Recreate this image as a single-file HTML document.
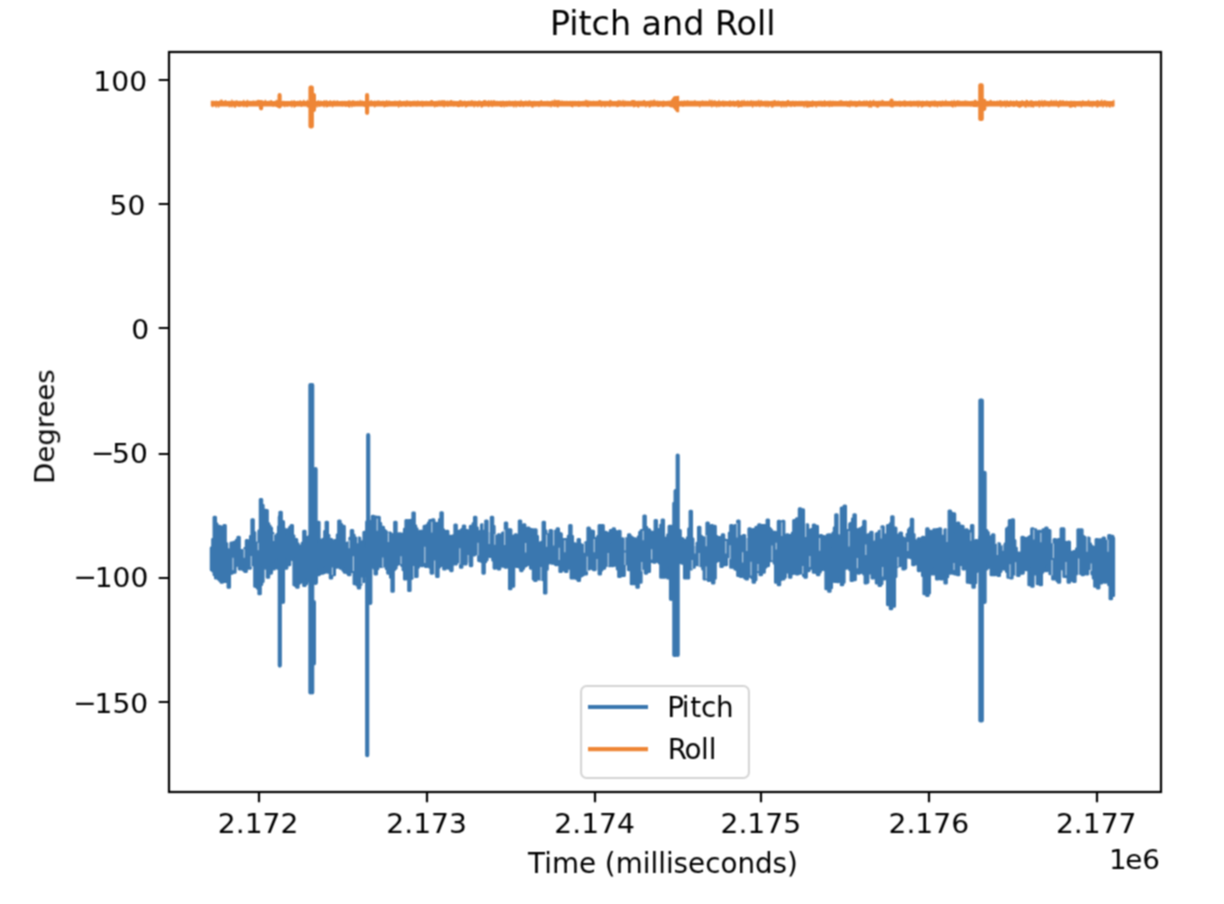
<!DOCTYPE html>
<html lang="en"><head><meta charset="utf-8"><title>Pitch and Roll</title>
<style>
html,body{margin:0;padding:0;background:#fff;}
body{width:1224px;height:904px;overflow:hidden;}
svg{display:block;}
text{font-family:"DejaVu Sans","Liberation Sans",sans-serif;fill:#000;}
</style></head><body>
<svg width="1224" height="904" viewBox="0 0 1224 904">
<defs><filter id="b" x="0" y="0" width="100%" height="100%" filterUnits="userSpaceOnUse" color-interpolation-filters="sRGB"><feConvolveMatrix order="3" kernelMatrix="0.0625 0.1250 0.0625 0.1250 0.2500 0.1250 0.0625 0.1250 0.0625" edgeMode="duplicate" preserveAlpha="false"/></filter><clipPath id="c"><rect x="169" y="52" width="992" height="740"/></clipPath></defs>
<rect width="1224" height="904" fill="#fff"/>
<g filter="url(#b)">
<g clip-path="url(#c)" fill="none" stroke-linejoin="round" stroke-linecap="butt" stroke-width="4.17">
<path d="M211.3 547.9 212.7 547.9 212.7 539.2 214.1 539.2 214.1 517.2 215.5 517.2 215.5 523.8 216.9 523.8 216.9 526.4 218.3 526.4 218.3 526.4 219.7 526.4 219.7 526.7 221.1 526.7 221.1 529.1 222.5 529.1 222.5 528.6 223.9 528.6 223.9 525.5 225.3 525.5 225.3 543.5 226.7 543.5 226.7 549.6 228.1 549.6 228.1 555.5 229.5 555.5 229.5 550.2 230.9 550.2 230.9 543.0 232.3 543.0 232.3 543.0 233.7 543.0 233.7 542.3 235.1 542.3 235.1 541.9 236.5 541.9 236.5 540.0 237.9 540.0 237.9 537.2 239.3 537.2 239.3 552.3 240.7 552.3 240.7 550.5 242.1 550.5 242.1 551.3 243.5 551.3 243.5 552.8 244.9 552.8 244.9 548.3 246.3 548.3 246.3 540.5 247.7 540.5 247.7 543.9 249.1 543.9 249.1 542.7 250.5 542.7 250.5 536.2 251.9 536.2 251.9 519.7 253.3 519.7 253.3 532.5 254.7 532.5 254.7 542.7 256.1 542.7 256.1 544.6 257.5 544.6 257.5 546.4 258.9 546.4 258.9 530.8 260.3 530.8 260.3 499.5 261.7 499.5 261.7 505.3 263.1 505.3 263.1 513.5 264.5 513.5 264.5 510.2 265.9 510.2 265.9 510.6 267.3 510.6 267.3 523.5 268.7 523.5 268.7 526.1 270.1 526.1 270.1 528.0 271.5 528.0 271.5 533.2 272.9 533.2 272.9 537.4 274.3 537.4 274.3 536.3 275.7 536.3 275.7 536.2 277.1 536.2 277.1 534.3 278.5 534.3 278.5 526.9 279.9 526.9 279.9 512.3 281.3 512.3 281.3 526.0 282.7 526.0 282.7 528.5 284.1 528.5 284.1 529.7 285.5 529.7 285.5 532.7 286.9 532.7 286.9 529.7 288.3 529.7 288.3 530.8 289.7 530.8 289.7 527.2 291.1 527.2 291.1 525.5 292.5 525.5 292.5 535.8 293.9 535.8 293.9 540.8 295.3 540.8 295.3 539.6 296.7 539.6 296.7 543.7 298.1 543.7 298.1 548.1 299.5 548.1 299.5 547.1 300.9 547.1 300.9 545.8 302.3 545.8 302.3 543.0 303.7 543.0 303.7 531.3 305.1 531.3 305.1 537.0 306.5 537.0 306.5 538.0 307.9 538.0 307.9 541.1 309.3 541.1 309.3 536.0 310.7 536.0 310.7 531.3 312.1 531.3 312.1 532.9 313.5 532.9 313.5 533.8 314.9 533.8 314.9 533.4 316.3 533.4 316.3 527.8 317.7 527.8 317.7 522.2 319.1 522.2 319.1 539.8 320.5 539.8 320.5 543.0 321.9 543.0 321.9 542.0 323.3 542.0 323.3 539.0 324.7 539.0 324.7 531.4 326.1 531.4 326.1 522.2 327.5 522.2 327.5 535.2 328.9 535.2 328.9 541.0 330.3 541.0 330.3 539.6 331.7 539.6 331.7 541.5 333.1 541.5 333.1 541.3 334.5 541.3 334.5 540.5 335.9 540.5 335.9 541.8 337.3 541.8 337.3 534.8 338.7 534.8 338.7 521.1 340.1 521.1 340.1 524.2 341.5 524.2 341.5 527.3 342.9 527.3 342.9 526.4 344.3 526.4 344.3 554.6 345.7 554.6 345.7 553.1 347.1 553.1 347.1 543.0 348.5 543.0 348.5 543.5 349.9 543.5 349.9 538.1 351.3 538.1 351.3 530.5 352.7 530.5 352.7 535.1 354.1 535.1 354.1 537.8 355.5 537.8 355.5 538.6 356.9 538.6 356.9 539.1 358.3 539.1 358.3 538.0 359.7 538.0 359.7 543.0 361.1 543.0 361.1 547.5 362.5 547.5 362.5 541.6 363.9 541.6 363.9 532.2 365.3 532.2 365.3 534.3 366.7 534.3 366.7 531.3 368.1 531.3 368.1 531.8 369.5 531.8 369.5 532.1 370.9 532.1 370.9 527.1 372.3 527.1 372.3 516.4 373.7 516.4 373.7 519.1 375.1 519.1 375.1 517.0 376.5 517.0 376.5 522.0 377.9 522.0 377.9 517.2 379.3 517.2 379.3 523.4 380.7 523.4 380.7 528.8 382.1 528.8 382.1 527.2 383.5 527.2 383.5 530.3 384.9 530.3 384.9 531.5 386.3 531.5 386.3 534.2 387.7 534.2 387.7 536.0 389.1 536.0 389.1 533.0 390.5 533.0 390.5 536.1 391.9 536.1 391.9 536.3 393.3 536.3 393.3 534.3 394.7 534.3 394.7 522.2 396.1 522.2 396.1 533.8 397.5 533.8 397.5 537.5 398.9 537.5 398.9 533.8 400.3 533.8 400.3 534.1 401.7 534.1 401.7 536.4 403.1 536.4 403.1 533.8 404.5 533.8 404.5 529.1 405.9 529.1 405.9 520.6 407.3 520.6 407.3 520.9 408.7 520.9 408.7 520.6 410.1 520.6 410.1 522.1 411.5 522.1 411.5 520.1 412.9 520.1 412.9 513.1 414.3 513.1 414.3 525.8 415.7 525.8 415.7 528.9 417.1 528.9 417.1 532.4 418.5 532.4 418.5 538.9 419.9 538.9 419.9 531.3 421.3 531.3 421.3 531.4 422.7 531.4 422.7 532.1 424.1 532.1 424.1 526.4 425.5 526.4 425.5 526.1 426.9 526.1 426.9 525.4 428.3 525.4 428.3 523.0 429.7 523.0 429.7 520.6 431.1 520.6 431.1 525.3 432.5 525.3 432.5 519.7 433.9 519.7 433.9 523.1 435.3 523.1 435.3 528.7 436.7 528.7 436.7 523.9 438.1 523.9 438.1 523.1 439.5 523.1 439.5 519.6 440.9 519.6 440.9 512.8 442.3 512.8 442.3 529.9 443.7 529.9 443.7 531.3 445.1 531.3 445.1 531.7 446.5 531.7 446.5 531.3 447.9 531.3 447.9 536.1 449.3 536.1 449.3 542.5 450.7 542.5 450.7 536.3 452.1 536.3 452.1 536.3 453.5 536.3 453.5 535.5 454.9 535.5 454.9 525.0 456.3 525.0 456.3 531.9 457.7 531.9 457.7 531.3 459.1 531.3 459.1 531.2 460.5 531.2 460.5 530.6 461.9 530.6 461.9 529.2 463.3 529.2 463.3 526.0 464.7 526.0 464.7 535.3 466.1 535.3 466.1 530.5 467.5 530.5 467.5 534.5 468.9 534.5 468.9 534.9 470.3 534.9 470.3 526.4 471.7 526.4 471.7 526.3 473.1 526.3 473.1 523.5 474.5 523.5 474.5 517.2 475.9 517.2 475.9 527.7 477.3 527.7 477.3 531.8 478.7 531.8 478.7 532.2 480.1 532.2 480.1 531.2 481.5 531.2 481.5 524.7 482.9 524.7 482.9 525.7 484.3 525.7 484.3 525.0 485.7 525.0 485.7 521.1 487.1 521.1 487.1 533.8 488.5 533.8 488.5 536.3 489.9 536.3 489.9 534.4 491.3 534.4 491.3 517.2 492.7 517.2 492.7 526.4 494.1 526.4 494.1 537.6 495.5 537.6 495.5 536.3 496.9 536.3 496.9 536.1 498.3 536.1 498.3 534.7 499.7 534.7 499.7 536.4 501.1 536.4 501.1 536.1 502.5 536.1 502.5 533.0 503.9 533.0 503.9 533.0 505.3 533.0 505.3 523.0 506.7 523.0 506.7 529.8 508.1 529.8 508.1 529.8 509.5 529.8 509.5 529.7 510.9 529.7 510.9 536.3 512.3 536.3 512.3 536.3 513.7 536.3 513.7 537.0 515.1 537.0 515.1 534.7 516.5 534.7 516.5 535.8 517.9 535.8 517.9 535.5 519.3 535.5 519.3 521.1 520.7 521.1 520.7 526.6 522.1 526.6 522.1 528.4 523.5 528.4 523.5 524.7 524.9 524.7 524.9 546.4 526.3 546.4 526.3 544.2 527.7 544.2 527.7 528.0 529.1 528.0 529.1 535.1 530.5 535.1 530.5 529.5 531.9 529.5 531.9 529.7 533.3 529.7 533.3 533.7 534.7 533.7 534.7 529.7 536.1 529.7 536.1 536.4 537.5 536.4 537.5 546.8 538.9 546.8 538.9 543.0 540.3 543.0 540.3 545.8 541.7 545.8 541.7 542.1 543.1 542.1 543.1 522.2 544.5 522.2 544.5 530.9 545.9 530.9 545.9 538.1 547.3 538.1 547.3 534.7 548.7 534.7 548.7 534.8 550.1 534.8 550.1 530.5 551.5 530.5 551.5 532.6 552.9 532.6 552.9 533.1 554.3 533.1 554.3 531.3 555.7 531.3 555.7 531.3 557.1 531.3 557.1 528.9 558.5 528.9 558.5 533.3 559.9 533.3 559.9 533.8 561.3 533.8 561.3 542.3 562.7 542.3 562.7 539.6 564.1 539.6 564.1 543.7 565.5 543.7 565.5 539.6 566.9 539.6 566.9 543.5 568.3 543.5 568.3 536.0 569.7 536.0 569.7 525.5 571.1 525.5 571.1 536.3 572.5 536.3 572.5 543.5 573.9 543.5 573.9 543.8 575.3 543.8 575.3 545.9 576.7 545.9 576.7 545.7 578.1 545.7 578.1 539.6 579.5 539.6 579.5 544.3 580.9 544.3 580.9 551.1 582.3 551.1 582.3 545.5 583.7 545.5 583.7 546.0 585.1 546.0 585.1 543.0 586.5 543.0 586.5 542.4 587.9 542.4 587.9 528.0 589.3 528.0 589.3 530.5 590.7 530.5 590.7 531.1 592.1 531.1 592.1 531.3 593.5 531.3 593.5 542.4 594.9 542.4 594.9 538.8 596.3 538.8 596.3 538.4 597.7 538.4 597.7 536.2 599.1 536.2 599.1 525.5 600.5 525.5 600.5 527.0 601.9 527.0 601.9 525.5 603.3 525.5 603.3 532.7 604.7 532.7 604.7 532.2 606.1 532.2 606.1 533.0 607.5 533.0 607.5 541.3 608.9 541.3 608.9 542.3 610.3 542.3 610.3 530.5 611.7 530.5 611.7 533.1 613.1 533.1 613.1 528.9 614.5 528.9 614.5 531.3 615.9 531.3 615.9 533.7 617.3 533.7 617.3 532.2 618.7 532.2 618.7 531.3 620.1 531.3 620.1 538.8 621.5 538.8 621.5 538.9 622.9 538.9 622.9 540.5 624.3 540.5 624.3 541.3 625.7 541.3 625.7 538.8 627.1 538.8 627.1 540.9 628.5 540.9 628.5 534.7 629.9 534.7 629.9 536.8 631.3 536.8 631.3 537.8 632.7 537.8 632.7 538.9 634.1 538.9 634.1 538.8 635.5 538.8 635.5 540.5 636.9 540.5 636.9 541.0 638.3 541.0 638.3 536.7 639.7 536.7 639.7 532.2 641.1 532.2 641.1 530.5 642.5 530.5 642.5 534.2 643.9 534.2 643.9 516.1 645.3 516.1 645.3 527.3 646.7 527.3 646.7 531.7 648.1 531.7 648.1 529.7 649.5 529.7 649.5 531.7 650.9 531.7 650.9 533.1 652.3 533.1 652.3 532.2 653.7 532.2 653.7 532.1 655.1 532.1 655.1 520.6 656.5 520.6 656.5 530.0 657.9 530.0 657.9 530.5 659.3 530.5 659.3 529.2 660.7 529.2 660.7 525.1 662.1 525.1 662.1 520.1 663.5 520.1 663.5 538.0 664.9 538.0 664.9 538.9 666.3 538.9 666.3 538.0 667.7 538.0 667.7 534.7 669.1 534.7 669.1 526.4 670.5 526.4 670.5 527.2 671.9 527.2 671.9 526.4 673.3 526.4 673.3 530.1 674.7 530.1 674.7 530.2 676.1 530.2 676.1 531.5 677.5 531.5 677.5 531.7 678.9 531.7 678.9 530.5 680.3 530.5 680.3 538.2 681.7 538.2 681.7 538.8 683.1 538.8 683.1 540.6 684.5 540.6 684.5 540.5 685.9 540.5 685.9 540.5 687.3 540.5 687.3 537.7 688.7 537.7 688.7 528.9 690.1 528.9 690.1 511.4 691.5 511.4 691.5 538.8 692.9 538.8 692.9 547.1 694.3 547.1 694.3 548.5 695.7 548.5 695.7 547.1 697.1 547.1 697.1 543.1 698.5 543.1 698.5 527.2 699.9 527.2 699.9 536.0 701.3 536.0 701.3 537.2 702.7 537.2 702.7 540.4 704.1 540.4 704.1 538.0 705.5 538.0 705.5 538.5 706.9 538.5 706.9 523.0 708.3 523.0 708.3 526.7 709.7 526.7 709.7 528.6 711.1 528.6 711.1 525.5 712.5 525.5 712.5 526.3 713.9 526.3 713.9 526.4 715.3 526.4 715.3 536.3 716.7 536.3 716.7 537.3 718.1 537.3 718.1 537.5 719.5 537.5 719.5 537.8 720.9 537.8 720.9 537.2 722.3 537.2 722.3 534.7 723.7 534.7 723.7 539.7 725.1 539.7 725.1 544.5 726.5 544.5 726.5 540.5 727.9 540.5 727.9 544.9 729.3 544.9 729.3 533.0 730.7 533.0 730.7 525.5 732.1 525.5 732.1 527.6 733.5 527.6 733.5 530.9 734.9 530.9 734.9 525.5 736.3 525.5 736.3 526.6 737.7 526.6 737.7 521.1 739.1 521.1 739.1 536.3 740.5 536.3 740.5 536.9 741.9 536.9 741.9 536.8 743.3 536.8 743.3 535.5 744.7 535.5 744.7 539.0 746.1 539.0 746.1 539.6 747.5 539.6 747.5 539.6 748.9 539.6 748.9 528.9 750.3 528.9 750.3 536.4 751.7 536.4 751.7 529.7 753.1 529.7 753.1 529.5 754.5 529.5 754.5 529.6 755.9 529.6 755.9 527.2 757.3 527.2 757.3 531.1 758.7 531.1 758.7 524.7 760.1 524.7 760.1 528.3 761.5 528.3 761.5 525.6 762.9 525.6 762.9 525.5 764.3 525.5 764.3 526.8 765.7 526.8 765.7 525.3 767.1 525.3 767.1 520.1 768.5 520.1 768.5 528.3 769.9 528.3 769.9 529.7 771.3 529.7 771.3 531.9 772.7 531.9 772.7 533.3 774.1 533.3 774.1 532.2 775.5 532.2 775.5 546.3 776.9 546.3 776.9 544.7 778.3 544.7 778.3 521.4 779.7 521.4 779.7 523.3 781.1 523.3 781.1 525.8 782.5 525.8 782.5 521.4 783.9 521.4 783.9 535.5 785.3 535.5 785.3 536.0 786.7 536.0 786.7 534.7 788.1 534.7 788.1 538.0 789.5 538.0 789.5 535.5 790.9 535.5 790.9 541.0 792.3 541.0 792.3 533.1 793.7 533.1 793.7 520.6 795.1 520.6 795.1 523.7 796.5 523.7 796.5 518.9 797.9 518.9 797.9 519.2 799.3 519.2 799.3 508.9 800.7 508.9 800.7 512.6 802.1 512.6 802.1 509.8 803.5 509.8 803.5 525.5 804.9 525.5 804.9 525.6 806.3 525.6 806.3 524.7 807.7 524.7 807.7 531.7 809.1 531.7 809.1 530.4 810.5 530.4 810.5 529.7 811.9 529.7 811.9 529.3 813.3 529.3 813.3 525.0 814.7 525.0 814.7 528.7 816.1 528.7 816.1 526.4 817.5 526.4 817.5 541.3 818.9 541.3 818.9 541.5 820.3 541.5 820.3 535.5 821.7 535.5 821.7 539.3 823.1 539.3 823.1 536.5 824.5 536.5 824.5 537.3 825.9 537.3 825.9 538.0 827.3 538.0 827.3 535.1 828.7 535.1 828.7 534.7 830.1 534.7 830.1 546.3 831.5 546.3 831.5 543.8 832.9 543.8 832.9 533.0 834.3 533.0 834.3 527.7 835.7 527.7 835.7 514.7 837.1 514.7 837.1 535.5 838.5 535.5 838.5 537.4 839.9 537.4 839.9 536.3 841.3 536.3 841.3 508.1 842.7 508.1 842.7 513.3 844.1 513.3 844.1 506.1 845.5 506.1 845.5 530.2 846.9 530.2 846.9 533.0 848.3 533.0 848.3 534.6 849.7 534.6 849.7 523.9 851.1 523.9 851.1 523.0 852.5 523.0 852.5 518.7 853.9 518.7 853.9 514.7 855.3 514.7 855.3 529.2 856.7 529.2 856.7 530.5 858.1 530.5 858.1 530.4 859.5 530.4 859.5 528.9 860.9 528.9 860.9 529.4 862.3 529.4 862.3 527.1 863.7 527.1 863.7 521.4 865.1 521.4 865.1 547.9 866.5 547.9 866.5 546.8 867.9 546.8 867.9 534.7 869.3 534.7 869.3 534.4 870.7 534.4 870.7 532.2 872.1 532.2 872.1 544.7 873.5 544.7 873.5 543.0 874.9 543.0 874.9 541.9 876.3 541.9 876.3 533.8 877.7 533.8 877.7 533.4 879.1 533.4 879.1 531.3 880.5 531.3 880.5 531.4 881.9 531.4 881.9 526.7 883.3 526.7 883.3 535.6 884.7 535.6 884.7 535.1 886.1 535.1 886.1 534.7 887.5 534.7 887.5 525.5 888.9 525.5 888.9 527.9 890.3 527.9 890.3 523.5 891.7 523.5 891.7 516.7 893.1 516.7 893.1 529.7 894.5 529.7 894.5 528.0 895.9 528.0 895.9 545.5 897.3 545.5 897.3 543.2 898.7 543.2 898.7 534.7 900.1 534.7 900.1 533.0 901.5 533.0 901.5 537.6 902.9 537.6 902.9 538.8 904.3 538.8 904.3 538.8 905.7 538.8 905.7 539.7 907.1 539.7 907.1 534.2 908.5 534.2 908.5 529.7 909.9 529.7 909.9 528.0 911.3 528.0 911.3 519.4 912.7 519.4 912.7 534.5 914.1 534.5 914.1 540.5 915.5 540.5 915.5 542.9 916.9 542.9 916.9 542.5 918.3 542.5 918.3 538.8 919.7 538.8 919.7 540.3 921.1 540.3 921.1 538.8 922.5 538.8 922.5 537.2 923.9 537.2 923.9 541.9 925.3 541.9 925.3 538.8 926.7 538.8 926.7 528.9 928.1 528.9 928.1 531.1 929.5 531.1 929.5 531.3 930.9 531.3 930.9 532.1 932.3 532.1 932.3 534.3 933.7 534.3 933.7 529.7 935.1 529.7 935.1 531.6 936.5 531.6 936.5 529.5 937.9 529.5 937.9 529.7 939.3 529.7 939.3 528.9 940.7 528.9 940.7 536.4 942.1 536.4 942.1 536.3 943.5 536.3 943.5 539.1 944.9 539.1 944.9 529.7 946.3 529.7 946.3 530.5 947.7 530.5 947.7 529.7 949.1 529.7 949.1 511.1 950.5 511.1 950.5 513.0 951.9 513.0 951.9 514.3 953.3 514.3 953.3 513.9 954.7 513.9 954.7 531.3 956.1 531.3 956.1 535.0 957.5 535.0 957.5 523.0 958.9 523.0 958.9 525.8 960.3 525.8 960.3 526.5 961.7 526.5 961.7 526.4 963.1 526.4 963.1 533.0 964.5 533.0 964.5 539.3 965.9 539.3 965.9 529.7 967.3 529.7 967.3 534.0 968.7 534.0 968.7 531.3 970.1 531.3 970.1 536.1 971.5 536.1 971.5 525.5 972.9 525.5 972.9 547.9 974.3 547.9 974.3 553.6 975.7 553.6 975.7 540.5 977.1 540.5 977.1 541.5 978.5 541.5 978.5 541.5 979.9 541.5 979.9 536.8 981.3 536.8 981.3 531.3 982.7 531.3 982.7 532.4 984.1 532.4 984.1 531.4 985.5 531.4 985.5 530.5 986.9 530.5 986.9 532.6 988.3 532.6 988.3 536.6 989.7 536.6 989.7 541.3 991.1 541.3 991.1 539.5 992.5 539.5 992.5 534.7 993.9 534.7 993.9 545.5 995.3 545.5 995.3 545.5 996.7 545.5 996.7 546.2 998.1 546.2 998.1 543.8 999.5 543.8 999.5 547.8 1000.9 547.8 1000.9 547.1 1002.3 547.1 1002.3 547.1 1003.7 547.1 1003.7 545.7 1005.1 545.7 1005.1 543.8 1006.5 543.8 1006.5 528.9 1007.9 528.9 1007.9 527.5 1009.3 527.5 1009.3 520.6 1010.7 520.6 1010.7 520.8 1012.1 520.8 1012.1 519.7 1013.5 519.7 1013.5 540.5 1014.9 540.5 1014.9 548.0 1016.3 548.0 1016.3 552.9 1017.7 552.9 1017.7 553.0 1019.1 553.0 1019.1 555.5 1020.5 555.5 1020.5 552.9 1021.9 552.9 1021.9 537.2 1023.3 537.2 1023.3 538.0 1024.7 538.0 1024.7 538.9 1026.1 538.9 1026.1 538.7 1027.5 538.7 1027.5 538.0 1028.9 538.0 1028.9 537.0 1030.3 537.0 1030.3 536.3 1031.7 536.3 1031.7 528.9 1033.1 528.9 1033.1 533.0 1034.5 533.0 1034.5 529.7 1035.9 529.7 1035.9 547.9 1037.3 547.9 1037.3 544.8 1038.7 544.8 1038.7 531.3 1040.1 531.3 1040.1 536.3 1041.5 536.3 1041.5 532.0 1042.9 532.0 1042.9 529.7 1044.3 529.7 1044.3 530.5 1045.7 530.5 1045.7 528.0 1047.1 528.0 1047.1 534.6 1048.5 534.6 1048.5 530.5 1049.9 530.5 1049.9 544.6 1051.3 544.6 1051.3 546.2 1052.7 546.2 1052.7 547.1 1054.1 547.1 1054.1 539.6 1055.5 539.6 1055.5 540.7 1056.9 540.7 1056.9 540.3 1058.3 540.3 1058.3 539.6 1059.7 539.6 1059.7 541.7 1061.1 541.7 1061.1 528.9 1062.5 528.9 1062.5 528.9 1063.9 528.9 1063.9 542.1 1065.3 542.1 1065.3 543.1 1066.7 543.1 1066.7 544.6 1068.1 544.6 1068.1 542.1 1069.5 542.1 1069.5 552.1 1070.9 552.1 1070.9 552.3 1072.3 552.3 1072.3 553.1 1073.7 553.1 1073.7 551.6 1075.1 551.6 1075.1 551.5 1076.5 551.5 1076.5 548.8 1077.9 548.8 1077.9 529.7 1079.3 529.7 1079.3 533.1 1080.7 533.1 1080.7 529.7 1082.1 529.7 1082.1 536.2 1083.5 536.2 1083.5 537.2 1084.9 537.2 1084.9 539.6 1086.3 539.6 1086.3 540.5 1087.7 540.5 1087.7 538.0 1089.1 538.0 1089.1 543.8 1090.5 543.8 1090.5 546.0 1091.9 546.0 1091.9 548.6 1093.3 548.6 1093.3 547.3 1094.7 547.3 1094.7 547.1 1096.1 547.1 1096.1 539.6 1097.5 539.6 1097.5 541.9 1098.9 541.9 1098.9 539.9 1100.3 539.9 1100.3 541.3 1101.7 541.3 1101.7 539.6 1103.1 539.6 1103.1 538.0 1104.5 538.0 1104.5 541.9 1105.9 541.9 1105.9 541.3 1107.3 541.3 1107.3 543.0 1108.7 543.0 1108.7 535.5 1110.1 535.5 1110.1 541.6 1111.5 541.6 1111.5 536.3 1112.9 536.3 1112.9 538.0 1113.6 538.0 1113.6 595.5 1112.9 595.5 1112.9 595.2 1111.5 595.2 1111.5 598.8 1110.1 598.8 1110.1 584.7 1108.7 584.7 1108.7 573.0 1107.3 573.0 1107.3 578.0 1105.9 578.0 1105.9 582.2 1104.5 582.2 1104.5 581.1 1103.1 581.1 1103.1 580.0 1101.7 580.0 1101.7 583.0 1100.3 583.0 1100.3 582.3 1098.9 582.3 1098.9 588.0 1097.5 588.0 1097.5 580.4 1096.1 580.4 1096.1 586.3 1094.7 586.3 1094.7 578.1 1093.3 578.1 1093.3 573.9 1091.9 573.9 1091.9 567.3 1090.5 567.3 1090.5 568.1 1089.1 568.1 1089.1 568.6 1087.7 568.6 1087.7 573.9 1086.3 573.9 1086.3 570.0 1084.9 570.0 1084.9 572.7 1083.5 572.7 1083.5 574.7 1082.1 574.7 1082.1 563.1 1080.7 563.1 1080.7 573.1 1079.3 573.1 1079.3 570.7 1077.9 570.7 1077.9 572.5 1076.5 572.5 1076.5 573.9 1075.1 573.9 1075.1 581.4 1073.7 581.4 1073.7 580.5 1072.3 580.5 1072.3 579.5 1070.9 579.5 1070.9 579.7 1069.5 579.7 1069.5 582.2 1068.1 582.2 1068.1 576.8 1066.7 576.8 1066.7 571.8 1065.3 571.8 1065.3 576.4 1063.9 576.4 1063.9 568.9 1062.5 568.9 1062.5 567.1 1061.1 567.1 1061.1 566.4 1059.7 566.4 1059.7 582.2 1058.3 582.2 1058.3 580.6 1056.9 580.6 1056.9 573.8 1055.5 573.8 1055.5 577.0 1054.1 577.0 1054.1 578.9 1052.7 578.9 1052.7 572.0 1051.3 572.0 1051.3 573.7 1049.9 573.7 1049.9 569.9 1048.5 569.9 1048.5 566.3 1047.1 566.3 1047.1 570.6 1045.7 570.6 1045.7 570.4 1044.3 570.4 1044.3 569.4 1042.9 569.4 1042.9 572.2 1041.5 572.2 1041.5 584.7 1040.1 584.7 1040.1 582.4 1038.7 582.4 1038.7 583.8 1037.3 583.8 1037.3 573.9 1035.9 573.9 1035.9 572.6 1034.5 572.6 1034.5 573.9 1033.1 573.9 1033.1 586.3 1031.7 586.3 1031.7 582.9 1030.3 582.9 1030.3 584.7 1028.9 584.7 1028.9 567.6 1027.5 567.6 1027.5 569.7 1026.1 569.7 1026.1 568.9 1024.7 568.9 1024.7 566.9 1023.3 566.9 1023.3 573.1 1021.9 573.1 1021.9 573.1 1020.5 573.1 1020.5 573.2 1019.1 573.2 1019.1 575.5 1017.7 575.5 1017.7 573.6 1016.3 573.6 1016.3 571.5 1014.9 571.5 1014.9 573.9 1013.5 573.9 1013.5 573.0 1012.1 573.0 1012.1 578.0 1010.7 578.0 1010.7 573.6 1009.3 573.6 1009.3 577.2 1007.9 577.2 1007.9 571.4 1006.5 571.4 1006.5 569.2 1005.1 569.2 1005.1 568.9 1003.7 568.9 1003.7 568.9 1002.3 568.9 1002.3 566.4 1000.9 566.4 1000.9 571.5 999.5 571.5 999.5 575.5 998.1 575.5 998.1 568.0 996.7 568.0 996.7 573.9 995.3 573.9 995.3 574.8 993.9 574.8 993.9 571.2 992.5 571.2 992.5 574.7 991.1 574.7 991.1 567.2 989.7 567.2 989.7 566.3 988.3 566.3 988.3 567.4 986.9 567.4 986.9 568.9 985.5 568.9 985.5 568.4 984.1 568.4 984.1 568.4 982.7 568.4 982.7 571.4 981.3 571.4 981.3 570.4 979.9 570.4 979.9 569.7 978.5 569.7 978.5 570.0 977.1 570.0 977.1 571.4 975.7 571.4 975.7 582.7 974.3 582.7 974.3 587.2 972.9 587.2 972.9 581.7 971.5 581.7 971.5 582.8 970.1 582.8 970.1 582.2 968.7 582.2 968.7 582.2 967.3 582.2 967.3 566.0 965.9 566.0 965.9 562.5 964.5 562.5 964.5 568.9 963.1 568.9 963.1 562.9 961.7 562.9 961.7 561.8 960.3 561.8 960.3 564.8 958.9 564.8 958.9 574.7 957.5 574.7 957.5 573.6 956.1 573.6 956.1 573.9 954.7 573.9 954.7 566.4 953.3 566.4 953.3 573.1 951.9 573.1 951.9 572.3 950.5 572.3 950.5 573.1 949.1 573.1 949.1 559.8 947.7 559.8 947.7 576.7 946.3 576.7 946.3 583.0 944.9 583.0 944.9 578.4 943.5 578.4 943.5 575.9 942.1 575.9 942.1 578.9 940.7 578.9 940.7 577.7 939.3 577.7 939.3 578.4 937.9 578.4 937.9 578.9 936.5 578.9 936.5 574.0 935.1 574.0 935.1 568.8 933.7 568.8 933.7 573.9 932.3 573.9 932.3 573.3 930.9 573.3 930.9 573.9 929.5 573.9 929.5 593.0 928.1 593.0 928.1 595.5 926.7 595.5 926.7 592.2 925.3 592.2 925.3 593.8 923.9 593.8 923.9 575.5 922.5 575.5 922.5 570.2 921.1 570.2 921.1 569.9 919.7 569.9 919.7 570.6 918.3 570.6 918.3 563.9 916.9 563.9 916.9 562.2 915.5 562.2 915.5 563.8 914.1 563.8 914.1 564.8 912.7 564.8 912.7 557.9 911.3 557.9 911.3 553.2 909.9 553.2 909.9 557.3 908.5 557.3 908.5 547.5 907.1 547.5 907.1 549.8 905.7 549.8 905.7 568.1 904.3 568.1 904.3 568.9 902.9 568.9 902.9 563.5 901.5 563.5 901.5 563.1 900.1 563.1 900.1 565.6 898.7 565.6 898.7 563.3 897.3 563.3 897.3 566.4 895.9 566.4 895.9 576.4 894.5 576.4 894.5 606.3 893.1 606.3 893.1 604.8 891.7 604.8 891.7 608.7 890.3 608.7 890.3 602.2 888.9 602.2 888.9 604.6 887.5 604.6 887.5 576.4 886.1 576.4 886.1 576.1 884.7 576.1 884.7 578.9 883.3 578.9 883.3 573.1 881.9 573.1 881.9 583.8 880.5 583.8 880.5 585.5 879.1 585.5 879.1 582.0 877.7 582.0 877.7 583.0 876.3 583.0 876.3 571.4 874.9 571.4 874.9 570.7 873.5 570.7 873.5 578.0 872.1 578.0 872.1 571.4 870.7 571.4 870.7 573.0 869.3 573.0 869.3 573.1 867.9 573.1 867.9 582.2 866.5 582.2 866.5 583.0 865.1 583.0 865.1 573.9 863.7 573.9 863.7 566.9 862.3 566.9 862.3 569.2 860.9 569.2 860.9 572.4 859.5 572.4 859.5 573.1 858.1 573.1 858.1 564.8 856.7 564.8 856.7 565.6 855.3 565.6 855.3 579.7 853.9 579.7 853.9 577.5 852.5 577.5 852.5 580.5 851.1 580.5 851.1 569.7 849.7 569.7 849.7 567.5 848.3 567.5 848.3 567.5 846.9 567.5 846.9 568.1 845.5 568.1 845.5 550.6 844.1 550.6 844.1 582.2 842.7 582.2 842.7 584.7 841.3 584.7 841.3 576.1 839.9 576.1 839.9 581.3 838.5 581.3 838.5 581.6 837.1 581.6 837.1 579.5 835.7 579.5 835.7 581.4 834.3 581.4 834.3 571.5 832.9 571.5 832.9 574.7 831.5 574.7 831.5 587.8 830.1 587.8 830.1 591.3 828.7 591.3 828.7 588.6 827.3 588.6 827.3 588.8 825.9 588.8 825.9 569.7 824.5 569.7 824.5 567.8 823.1 567.8 823.1 568.4 821.7 568.4 821.7 569.8 820.3 569.8 820.3 572.0 818.9 572.0 818.9 574.7 817.5 574.7 817.5 572.6 816.1 572.6 816.1 572.3 814.7 572.3 814.7 572.2 813.3 572.2 813.3 567.8 811.9 567.8 811.9 568.1 810.5 568.1 810.5 563.3 809.1 563.3 809.1 570.6 807.7 570.6 807.7 568.8 806.3 568.8 806.3 577.2 804.9 577.2 804.9 575.6 803.5 575.6 803.5 570.2 802.1 570.2 802.1 571.8 800.7 571.8 800.7 573.1 799.3 573.1 799.3 571.9 797.9 571.9 797.9 573.9 796.5 573.9 796.5 572.7 795.1 572.7 795.1 573.1 793.7 573.1 793.7 555.6 792.3 555.6 792.3 573.7 790.9 573.7 790.9 577.2 789.5 577.2 789.5 572.3 788.1 572.3 788.1 571.4 786.7 571.4 786.7 569.6 785.3 569.6 785.3 577.2 783.9 577.2 783.9 578.9 782.5 578.9 782.5 574.7 781.1 574.7 781.1 579.6 779.7 579.6 779.7 584.7 778.3 584.7 778.3 580.3 776.9 580.3 776.9 582.2 775.5 582.2 775.5 563.1 774.1 563.1 774.1 559.7 772.7 559.7 772.7 556.8 771.3 556.8 771.3 560.6 769.9 560.6 769.9 551.5 768.5 551.5 768.5 565.6 767.1 565.6 767.1 565.9 765.7 565.9 765.7 567.2 764.3 567.2 764.3 572.2 762.9 572.2 762.9 571.5 761.5 571.5 761.5 574.7 760.1 574.7 760.1 571.7 758.7 571.7 758.7 567.7 757.3 567.7 757.3 569.7 755.9 569.7 755.9 579.7 754.5 579.7 754.5 582.2 753.1 582.2 753.1 577.7 751.7 577.7 751.7 572.1 750.3 572.1 750.3 574.7 748.9 574.7 748.9 576.4 747.5 576.4 747.5 578.9 746.1 578.9 746.1 578.0 744.7 578.0 744.7 563.7 743.3 563.7 743.3 558.9 741.9 558.9 741.9 576.4 740.5 576.4 740.5 575.7 739.1 575.7 739.1 575.5 737.7 575.5 737.7 569.5 736.3 569.5 736.3 568.9 734.9 568.9 734.9 567.2 733.5 567.2 733.5 566.5 732.1 566.5 732.1 567.2 730.7 567.2 730.7 555.6 729.3 555.6 729.3 556.2 727.9 556.2 727.9 556.8 726.5 556.8 726.5 564.8 725.1 564.8 725.1 564.8 723.7 564.8 723.7 564.8 722.3 564.8 722.3 566.4 720.9 566.4 720.9 558.8 719.5 558.8 719.5 560.5 718.1 560.5 718.1 559.0 716.7 559.0 716.7 561.4 715.3 561.4 715.3 578.2 713.9 578.2 713.9 583.0 712.5 583.0 712.5 576.4 711.1 576.4 711.1 576.4 709.7 576.4 709.7 580.5 708.3 580.5 708.3 578.8 706.9 578.8 706.9 575.2 705.5 575.2 705.5 578.9 704.1 578.9 704.1 568.9 702.7 568.9 702.7 564.9 701.3 564.9 701.3 565.8 699.9 565.8 699.9 564.6 698.5 564.6 698.5 564.8 697.1 564.8 697.1 561.6 695.7 561.6 695.7 561.4 694.3 561.4 694.3 567.2 692.9 567.2 692.9 565.9 691.5 565.9 691.5 568.9 690.1 568.9 690.1 566.3 688.7 566.3 688.7 578.0 687.3 578.0 687.3 577.8 685.9 577.8 685.9 578.0 684.5 578.0 684.5 562.1 683.1 562.1 683.1 563.1 681.7 563.1 681.7 562.3 680.3 562.3 680.3 562.0 678.9 562.0 678.9 562.8 677.5 562.8 677.5 564.0 676.1 564.0 676.1 561.6 674.7 561.6 674.7 564.8 673.3 564.8 673.3 570.1 671.9 570.1 671.9 578.0 670.5 578.0 670.5 576.5 669.1 576.5 669.1 578.0 667.7 578.0 667.7 568.9 666.3 568.9 666.3 569.9 664.9 569.9 664.9 577.2 663.5 577.2 663.5 576.5 662.1 576.5 662.1 577.2 660.7 577.2 660.7 563.0 659.3 563.0 659.3 561.4 657.9 561.4 657.9 561.1 656.5 561.1 656.5 559.0 655.1 559.0 655.1 562.3 653.7 562.3 653.7 561.5 652.3 561.5 652.3 556.1 650.9 556.1 650.9 561.4 649.5 561.4 649.5 571.4 648.1 571.4 648.1 569.3 646.7 569.3 646.7 573.1 645.3 573.1 645.3 568.3 643.9 568.3 643.9 568.2 642.5 568.2 642.5 568.1 641.1 568.1 641.1 582.2 639.7 582.2 639.7 580.6 638.3 580.6 638.3 587.2 636.9 587.2 636.9 583.3 635.5 583.3 635.5 583.8 634.1 583.8 634.1 580.9 632.7 580.9 632.7 583.8 631.3 583.8 631.3 569.5 629.9 569.5 629.9 569.7 628.5 569.7 628.5 564.0 627.1 564.0 627.1 562.2 625.7 562.2 625.7 561.4 624.3 561.4 624.3 575.5 622.9 575.5 622.9 574.1 621.5 574.1 621.5 575.7 620.1 575.7 620.1 576.4 618.7 576.4 618.7 568.9 617.3 568.9 617.3 562.8 615.9 562.8 615.9 565.3 614.5 565.3 614.5 564.5 613.1 564.5 613.1 565.6 611.7 565.6 611.7 563.7 610.3 563.7 610.3 565.6 608.9 565.6 608.9 562.9 607.5 562.9 607.5 564.7 606.1 564.7 606.1 565.4 604.7 565.4 604.7 568.1 603.3 568.1 603.3 568.5 601.9 568.5 601.9 570.1 600.5 570.1 600.5 573.9 599.1 573.9 599.1 567.6 597.7 567.6 597.7 566.4 596.3 566.4 596.3 568.8 594.9 568.8 594.9 569.7 593.5 569.7 593.5 568.5 592.1 568.5 592.1 567.2 590.7 567.2 590.7 567.6 589.3 567.6 589.3 568.9 587.9 568.9 587.9 568.2 586.5 568.2 586.5 573.9 585.1 573.9 585.1 566.8 583.7 566.8 583.7 574.4 582.3 574.4 582.3 575.5 580.9 575.5 580.9 576.3 579.5 576.3 579.5 580.5 578.1 580.5 578.1 578.7 576.7 578.7 576.7 577.1 575.3 577.1 575.3 578.0 573.9 578.0 573.9 577.9 572.5 577.9 572.5 578.0 571.1 578.0 571.1 568.2 569.7 568.2 569.7 568.1 568.3 568.1 568.3 565.3 566.9 565.3 566.9 571.4 565.5 571.4 565.5 569.2 564.1 569.2 564.1 570.0 562.7 570.0 562.7 567.5 561.3 567.5 561.3 571.4 559.9 571.4 559.9 556.5 558.5 556.5 558.5 557.4 557.1 557.4 557.1 564.8 555.7 564.8 555.7 563.4 554.3 563.4 554.3 563.1 552.9 563.1 552.9 563.1 551.5 563.1 551.5 555.7 550.1 555.7 550.1 562.8 548.7 562.8 548.7 563.1 547.3 563.1 547.3 569.3 545.9 569.3 545.9 593.0 544.5 593.0 544.5 579.7 543.1 579.7 543.1 578.9 541.7 578.9 541.7 576.4 540.3 576.4 540.3 578.9 538.9 578.9 538.9 578.0 537.5 578.0 537.5 576.0 536.1 576.0 536.1 580.5 534.7 580.5 534.7 578.9 533.3 578.9 533.3 568.3 531.9 568.3 531.9 568.1 530.5 568.1 530.5 563.6 529.1 563.6 529.1 563.8 527.7 563.8 527.7 564.6 526.3 564.6 526.3 565.6 524.9 565.6 524.9 566.3 523.5 566.3 523.5 568.5 522.1 568.5 522.1 570.6 520.7 570.6 520.7 567.3 519.3 567.3 519.3 564.6 517.9 564.6 517.9 566.4 516.5 566.4 516.5 560.0 515.1 560.0 515.1 561.4 513.7 561.4 513.7 586.3 512.3 586.3 512.3 585.2 510.9 585.2 510.9 588.8 509.5 588.8 509.5 565.3 508.1 565.3 508.1 566.4 506.7 566.4 506.7 567.2 505.3 567.2 505.3 566.3 503.9 566.3 503.9 566.2 502.5 566.2 502.5 565.3 501.1 565.3 501.1 564.0 499.7 564.0 499.7 568.9 498.3 568.9 498.3 562.8 496.9 562.8 496.9 567.2 495.5 567.2 495.5 568.1 494.1 568.1 494.1 560.1 492.7 560.1 492.7 553.4 491.3 553.4 491.3 556.5 489.9 556.5 489.9 554.0 488.5 554.0 488.5 552.3 487.1 552.3 487.1 559.8 485.7 559.8 485.7 561.7 484.3 561.7 484.3 573.1 482.9 573.1 482.9 561.4 481.5 561.4 481.5 559.7 480.1 559.7 480.1 560.6 478.7 560.6 478.7 551.9 477.3 551.9 477.3 553.2 475.9 553.2 475.9 554.0 474.5 554.0 474.5 554.9 473.1 554.9 473.1 554.3 471.7 554.3 471.7 565.6 470.3 565.6 470.3 559.8 468.9 559.8 468.9 558.7 467.5 558.7 467.5 561.0 466.1 561.0 466.1 563.9 464.7 563.9 464.7 563.1 463.3 563.1 463.3 563.6 461.9 563.6 461.9 567.2 460.5 567.2 460.5 561.0 459.1 561.0 459.1 561.7 457.7 561.7 457.7 559.3 456.3 559.3 456.3 563.9 454.9 563.9 454.9 563.9 453.5 563.9 453.5 562.6 452.1 562.6 452.1 570.6 450.7 570.6 450.7 568.1 449.3 568.1 449.3 568.1 447.9 568.1 447.9 564.9 446.5 564.9 446.5 565.1 445.1 565.1 445.1 568.9 443.7 568.9 443.7 563.4 442.3 563.4 442.3 565.0 440.9 565.0 440.9 565.6 439.5 565.6 439.5 567.1 438.1 567.1 438.1 576.4 436.7 576.4 436.7 573.5 435.3 573.5 435.3 571.5 433.9 571.5 433.9 572.0 432.5 572.0 432.5 573.1 431.1 573.1 431.1 567.2 429.7 567.2 429.7 564.1 428.3 564.1 428.3 566.2 426.9 566.2 426.9 566.4 425.5 566.4 425.5 559.5 424.1 559.5 424.1 564.5 422.7 564.5 422.7 565.6 421.3 565.6 421.3 561.7 419.9 561.7 419.9 564.7 418.5 564.7 418.5 567.2 417.1 567.2 417.1 576.4 415.7 576.4 415.7 575.9 414.3 575.9 414.3 574.4 412.9 574.4 412.9 577.2 411.5 577.2 411.5 578.6 410.1 578.6 410.1 590.5 408.7 590.5 408.7 574.2 407.3 574.2 407.3 576.4 405.9 576.4 405.9 578.9 404.5 578.9 404.5 569.7 403.1 569.7 403.1 565.5 401.7 565.5 401.7 560.4 400.3 560.4 400.3 563.1 398.9 563.1 398.9 563.8 397.5 563.8 397.5 564.6 396.1 564.6 396.1 568.1 394.7 568.1 394.7 569.5 393.3 569.5 393.3 591.3 391.9 591.3 391.9 577.2 390.5 577.2 390.5 570.5 389.1 570.5 389.1 573.1 387.7 573.1 387.7 568.6 386.3 568.6 386.3 565.2 384.9 565.2 384.9 565.9 383.5 565.9 383.5 564.0 382.1 564.0 382.1 566.4 380.7 566.4 380.7 562.3 379.3 562.3 379.3 562.0 377.9 562.0 377.9 568.7 376.5 568.7 376.5 573.9 375.1 573.9 375.1 568.1 373.7 568.1 373.7 566.4 372.3 566.4 372.3 566.5 370.9 566.5 370.9 565.9 369.5 565.9 369.5 567.8 368.1 567.8 368.1 563.4 366.7 563.4 366.7 571.8 365.3 571.8 365.3 575.6 363.9 575.6 363.9 581.4 362.5 581.4 362.5 580.8 361.1 580.8 361.1 584.2 359.7 584.2 359.7 588.0 358.3 588.0 358.3 584.9 356.9 584.9 356.9 583.1 355.5 583.1 355.5 583.8 354.1 583.8 354.1 567.4 352.7 567.4 352.7 571.4 351.3 571.4 351.3 571.6 349.9 571.6 349.9 574.7 348.5 574.7 348.5 572.9 347.1 572.9 347.1 571.9 345.7 571.9 345.7 572.2 344.3 572.2 344.3 570.2 342.9 570.2 342.9 567.5 341.5 567.5 341.5 568.1 340.1 568.1 340.1 566.6 338.7 566.6 338.7 565.6 337.3 565.6 337.3 567.2 335.9 567.2 335.9 564.0 334.5 564.0 334.5 574.7 333.1 574.7 333.1 571.3 331.7 571.3 331.7 578.0 330.3 578.0 330.3 570.0 328.9 570.0 328.9 572.2 327.5 572.2 327.5 571.6 326.1 571.6 326.1 567.8 324.7 567.8 324.7 572.5 323.3 572.5 323.3 573.1 321.9 573.1 321.9 573.2 320.5 573.2 320.5 573.6 319.1 573.6 319.1 574.7 317.7 574.7 317.7 570.2 316.3 570.2 316.3 582.2 314.9 582.2 314.9 581.2 313.5 581.2 313.5 576.8 312.1 576.8 312.1 578.1 310.7 578.1 310.7 577.6 309.3 577.6 309.3 581.0 307.9 581.0 307.9 581.2 306.5 581.2 306.5 583.8 305.1 583.8 305.1 585.5 303.7 585.5 303.7 577.2 302.3 577.2 302.3 580.1 300.9 580.1 300.9 582.2 299.5 582.2 299.5 583.2 298.1 583.2 298.1 587.2 296.7 587.2 296.7 585.4 295.3 585.4 295.3 584.7 293.9 584.7 293.9 559.6 292.5 559.6 292.5 555.6 291.1 555.6 291.1 554.0 289.7 554.0 289.7 564.8 288.3 564.8 288.3 560.0 286.9 560.0 286.9 568.1 285.5 568.1 285.5 563.3 284.1 563.3 284.1 566.4 282.7 566.4 282.7 563.6 281.3 563.6 281.3 567.2 279.9 567.2 279.9 567.6 278.5 567.6 278.5 568.1 277.1 568.1 277.1 561.1 275.7 561.1 275.7 565.6 274.3 565.6 274.3 568.9 272.9 568.9 272.9 564.3 271.5 564.3 271.5 573.1 270.1 573.1 270.1 569.1 268.7 569.1 268.7 577.2 267.3 577.2 267.3 568.2 265.9 568.2 265.9 564.8 264.5 564.8 264.5 566.2 263.1 566.2 263.1 581.4 261.7 581.4 261.7 584.4 260.3 584.4 260.3 593.8 258.9 593.8 258.9 588.2 257.5 588.2 257.5 586.8 256.1 586.8 256.1 586.3 254.7 586.3 254.7 564.9 253.3 564.9 253.3 563.9 251.9 563.9 251.9 563.7 250.5 563.7 250.5 568.1 249.1 568.1 249.1 568.2 247.7 568.2 247.7 565.8 246.3 565.8 246.3 571.4 244.9 571.4 244.9 570.1 243.5 570.1 243.5 569.0 242.1 569.0 242.1 564.7 240.7 564.7 240.7 568.9 239.3 568.9 239.3 565.2 237.9 565.2 237.9 564.8 236.5 564.8 236.5 565.4 235.1 565.4 235.1 572.2 233.7 572.2 233.7 566.6 232.3 566.6 232.3 573.1 230.9 573.1 230.9 573.5 229.5 573.5 229.5 587.2 228.1 587.2 228.1 580.6 226.7 580.6 226.7 581.5 225.3 581.5 225.3 581.4 223.9 581.4 223.9 580.5 222.5 580.5 222.5 582.2 221.1 582.2 221.1 580.4 219.7 580.4 219.7 578.9 218.3 578.9 218.3 575.1 216.9 575.1 216.9 578.0 215.5 578.0 215.5 574.7 214.1 574.7 214.1 571.0 212.7 571.0 212.7 569.7 211.3 569.7Z" stroke="#3a77af" fill="#3a77af" stroke-width="3.1"/>
<path d="M233.0 570.2 V557.7 M244.2 549.2 V557.7 M251.2 567.2 V556.1 M258.2 542.8 V550.2 M273.6 533.9 V541.0 M332.4 574.9 V567.5 M349.2 540.0 V548.3 M353.4 570.9 V556.2 M357.6 535.5 V543.2 M361.8 584.3 V577.4 M377.2 518.5 V530.7 M382.8 567.6 V557.4 M388.4 532.4 V542.0 M401.0 563.9 V556.3 M413.6 578.0 V566.0 M424.8 563.0 V546.7 M431.8 521.8 V532.5 M434.6 575.0 V560.4 M459.8 564.6 V548.3 M468.2 562.3 V555.0 M478.0 555.4 V542.8 M483.6 522.2 V529.7 M489.2 532.8 V544.1 M494.8 534.0 V544.8 M504.6 529.5 V544.9 M525.6 542.9 V552.4 M541.0 580.0 V567.1 M546.6 534.5 V546.7 M553.6 529.6 V545.6 M559.2 560.0 V547.8 M564.8 540.2 V552.3 M584.4 542.5 V552.8 M587.2 571.7 V556.5 M594.2 538.9 V552.2 M597.0 569.9 V558.9 M608.2 566.4 V553.1 M625.0 537.7 V550.4 M625.0 565.0 V552.4 M641.8 571.6 V561.9 M643.2 530.7 V540.2 M651.6 559.6 V549.2 M692.2 569.4 V560.1 M695.0 544.9 V553.6 M699.2 568.2 V553.1 M706.2 535.0 V546.2 M706.2 578.8 V566.5 M725.8 541.0 V553.6 M730.0 559.2 V545.3 M737.0 523.0 V537.6 M742.6 562.5 V552.3 M746.8 536.1 V551.0 M751.0 575.6 V561.7 M758.0 571.2 V563.9 M772.0 560.4 V545.4 M776.2 542.7 V549.5 M781.8 522.2 V536.1 M802.8 573.8 V565.9 M805.6 522.0 V537.1 M809.8 566.9 V556.0 M819.6 538.0 V550.7 M849.0 531.1 V546.5 M857.4 568.3 V558.0 M865.8 544.4 V554.9 M881.2 527.8 V538.5 M882.6 576.6 V566.9 M898.0 566.8 V557.1 M907.8 551.1 V541.9 M947.0 527.0 V541.9 M954.0 570.0 V563.1 M970.8 532.5 V540.8 M997.4 542.7 V555.1 M1003.0 543.6 V550.8 M1010.0 577.2 V564.2 M1015.6 575.1 V562.3 M1033.8 529.4 V539.5 M1040.8 532.8 V542.2 M1052.0 575.6 V560.1 M1053.4 543.5 V558.0 M1066.0 575.3 V561.9 M1078.6 574.3 V558.5 M1087.0 537.0 V551.8 M1091.2 570.9 V563.5 M1108.0 539.5 V551.7" stroke="#fff" stroke-width="1.2" stroke-opacity="0.62"/>
<path d="M310.4 385.0 V692.5 M312.2 385.0 V692.5 M313.9 602.0 V663.6 M315.6 469.2 V583.0 M279.8 517.0 V665.6 M283.0 522.0 V602.0 M368.2 435.2 V598.0 M367.2 522.0 V755.2 M370.3 522.0 V603.0 M677.7 455.6 V654.9 M675.6 491.1 V654.9 M674.3 503.6 V654.9 M671.0 526.8 V599.0 M980.4 400.6 V720.4 M981.8 400.6 V720.4 M984.6 472.9 V602.0" stroke="#3a77af" stroke-linecap="round"/>
<path d="M210.8 100.8 212.0 100.8 212.0 100.8 213.2 100.8 213.2 100.8 214.4 100.8 214.4 100.9 215.6 100.9 215.6 100.5 216.8 100.5 216.8 101.0 218.0 101.0 218.0 101.0 219.2 101.0 219.2 100.5 220.4 100.5 220.4 99.6 221.6 99.6 221.6 99.7 222.8 99.7 222.8 100.9 224.0 100.9 224.0 100.6 225.2 100.6 225.2 100.0 226.4 100.0 226.4 100.9 227.6 100.9 227.6 101.0 228.8 101.0 228.8 100.8 230.0 100.8 230.0 100.9 231.2 100.9 231.2 99.6 232.4 99.6 232.4 100.8 233.6 100.8 233.6 100.8 234.8 100.8 234.8 100.8 236.0 100.8 236.0 100.3 237.2 100.3 237.2 100.8 238.4 100.8 238.4 101.0 239.6 101.0 239.6 100.8 240.8 100.8 240.8 100.9 242.0 100.9 242.0 100.8 243.2 100.8 243.2 99.7 244.4 99.7 244.4 101.0 245.6 101.0 245.6 100.8 246.8 100.8 246.8 99.8 248.0 99.8 248.0 100.8 249.2 100.8 249.2 100.8 250.4 100.8 250.4 101.0 251.6 101.0 251.6 100.8 252.8 100.8 252.8 100.4 254.0 100.4 254.0 100.8 255.2 100.8 255.2 100.8 256.4 100.8 256.4 100.2 257.6 100.2 257.6 99.7 258.8 99.7 258.8 100.1 260.0 100.1 260.0 100.8 261.2 100.8 261.2 100.8 262.4 100.8 262.4 100.8 263.6 100.8 263.6 100.8 264.8 100.8 264.8 99.8 266.0 99.8 266.0 100.8 267.2 100.8 267.2 100.9 268.4 100.9 268.4 100.8 269.6 100.8 269.6 100.5 270.8 100.5 270.8 99.9 272.0 99.9 272.0 100.9 273.2 100.9 273.2 101.0 274.4 101.0 274.4 100.9 275.6 100.9 275.6 99.7 276.8 99.7 276.8 100.2 278.0 100.2 278.0 101.0 279.2 101.0 279.2 100.9 280.4 100.9 280.4 100.9 281.6 100.9 281.6 101.0 282.8 101.0 282.8 100.8 284.0 100.8 284.0 101.0 285.2 101.0 285.2 101.0 286.4 101.0 286.4 100.9 287.6 100.9 287.6 100.9 288.8 100.9 288.8 100.9 290.0 100.9 290.0 100.9 291.2 100.9 291.2 100.2 292.4 100.2 292.4 100.9 293.6 100.9 293.6 100.1 294.8 100.1 294.8 100.9 296.0 100.9 296.0 100.9 297.2 100.9 297.2 100.8 298.4 100.8 298.4 100.9 299.6 100.9 299.6 100.1 300.8 100.1 300.8 100.9 302.0 100.9 302.0 100.8 303.2 100.8 303.2 99.8 304.4 99.8 304.4 100.8 305.6 100.8 305.6 100.9 306.8 100.9 306.8 99.8 308.0 99.8 308.0 100.9 309.2 100.9 309.2 101.0 310.4 101.0 310.4 100.9 311.6 100.9 311.6 101.0 312.8 101.0 312.8 100.8 314.0 100.8 314.0 100.8 315.2 100.8 315.2 100.9 316.4 100.9 316.4 101.0 317.6 101.0 317.6 100.0 318.8 100.0 318.8 101.0 320.0 101.0 320.0 100.6 321.2 100.6 321.2 101.0 322.4 101.0 322.4 100.9 323.6 100.9 323.6 99.9 324.8 99.9 324.8 100.8 326.0 100.8 326.0 100.1 327.2 100.1 327.2 101.0 328.4 101.0 328.4 101.0 329.6 101.0 329.6 100.0 330.8 100.0 330.8 100.9 332.0 100.9 332.0 100.8 333.2 100.8 333.2 100.5 334.4 100.5 334.4 100.6 335.6 100.6 335.6 101.0 336.8 101.0 336.8 100.3 338.0 100.3 338.0 101.0 339.2 101.0 339.2 100.9 340.4 100.9 340.4 100.9 341.6 100.9 341.6 100.7 342.8 100.7 342.8 100.9 344.0 100.9 344.0 100.8 345.2 100.8 345.2 101.0 346.4 101.0 346.4 100.9 347.6 100.9 347.6 100.4 348.8 100.4 348.8 100.2 350.0 100.2 350.0 100.8 351.2 100.8 351.2 100.8 352.4 100.8 352.4 100.0 353.6 100.0 353.6 100.7 354.8 100.7 354.8 100.8 356.0 100.8 356.0 100.9 357.2 100.9 357.2 100.4 358.4 100.4 358.4 100.9 359.6 100.9 359.6 99.8 360.8 99.8 360.8 100.8 362.0 100.8 362.0 100.6 363.2 100.6 363.2 101.0 364.4 101.0 364.4 101.0 365.6 101.0 365.6 101.0 366.8 101.0 366.8 100.1 368.0 100.1 368.0 100.4 369.2 100.4 369.2 100.9 370.4 100.9 370.4 100.1 371.6 100.1 371.6 100.8 372.8 100.8 372.8 100.9 374.0 100.9 374.0 100.4 375.2 100.4 375.2 100.9 376.4 100.9 376.4 100.6 377.6 100.6 377.6 100.6 378.8 100.6 378.8 100.4 380.0 100.4 380.0 100.9 381.2 100.9 381.2 100.8 382.4 100.8 382.4 100.8 383.6 100.8 383.6 100.8 384.8 100.8 384.8 101.0 386.0 101.0 386.0 100.0 387.2 100.0 387.2 100.9 388.4 100.9 388.4 100.3 389.6 100.3 389.6 100.9 390.8 100.9 390.8 101.0 392.0 101.0 392.0 101.0 393.2 101.0 393.2 100.9 394.4 100.9 394.4 100.4 395.6 100.4 395.6 100.9 396.8 100.9 396.8 100.8 398.0 100.8 398.0 100.9 399.2 100.9 399.2 100.1 400.4 100.1 400.4 100.9 401.6 100.9 401.6 100.9 402.8 100.9 402.8 100.9 404.0 100.9 404.0 100.8 405.2 100.8 405.2 100.9 406.4 100.9 406.4 99.9 407.6 99.9 407.6 100.9 408.8 100.9 408.8 100.8 410.0 100.8 410.0 100.9 411.2 100.9 411.2 101.0 412.4 101.0 412.4 100.8 413.6 100.8 413.6 100.8 414.8 100.8 414.8 100.8 416.0 100.8 416.0 100.9 417.2 100.9 417.2 100.3 418.4 100.3 418.4 100.9 419.6 100.9 419.6 101.0 420.8 101.0 420.8 100.8 422.0 100.8 422.0 100.8 423.2 100.8 423.2 100.9 424.4 100.9 424.4 101.0 425.6 101.0 425.6 100.8 426.8 100.8 426.8 101.0 428.0 101.0 428.0 100.9 429.2 100.9 429.2 100.9 430.4 100.9 430.4 100.0 431.6 100.0 431.6 100.1 432.8 100.1 432.8 100.9 434.0 100.9 434.0 100.9 435.2 100.9 435.2 101.0 436.4 101.0 436.4 100.8 437.6 100.8 437.6 100.8 438.8 100.8 438.8 100.2 440.0 100.2 440.0 100.8 441.2 100.8 441.2 99.9 442.4 99.9 442.4 100.5 443.6 100.5 443.6 100.0 444.8 100.0 444.8 100.8 446.0 100.8 446.0 100.8 447.2 100.8 447.2 100.6 448.4 100.6 448.4 100.9 449.6 100.9 449.6 100.3 450.8 100.3 450.8 100.0 452.0 100.0 452.0 100.8 453.2 100.8 453.2 100.8 454.4 100.8 454.4 100.9 455.6 100.9 455.6 100.9 456.8 100.9 456.8 100.9 458.0 100.9 458.0 100.9 459.2 100.9 459.2 100.0 460.4 100.0 460.4 100.2 461.6 100.2 461.6 100.8 462.8 100.8 462.8 101.0 464.0 101.0 464.0 100.4 465.2 100.4 465.2 101.0 466.4 101.0 466.4 100.9 467.6 100.9 467.6 100.8 468.8 100.8 468.8 100.8 470.0 100.8 470.0 100.8 471.2 100.8 471.2 99.9 472.4 99.9 472.4 100.8 473.6 100.8 473.6 100.8 474.8 100.8 474.8 100.8 476.0 100.8 476.0 100.9 477.2 100.9 477.2 101.0 478.4 101.0 478.4 100.3 479.6 100.3 479.6 100.7 480.8 100.7 480.8 101.0 482.0 101.0 482.0 101.0 483.2 101.0 483.2 99.9 484.4 99.9 484.4 100.1 485.6 100.1 485.6 100.6 486.8 100.6 486.8 100.9 488.0 100.9 488.0 100.1 489.2 100.1 489.2 101.0 490.4 101.0 490.4 99.9 491.6 99.9 491.6 100.8 492.8 100.8 492.8 100.3 494.0 100.3 494.0 100.2 495.2 100.2 495.2 100.9 496.4 100.9 496.4 100.8 497.6 100.8 497.6 101.0 498.8 101.0 498.8 100.9 500.0 100.9 500.0 100.8 501.2 100.8 501.2 100.9 502.4 100.9 502.4 100.6 503.6 100.6 503.6 100.9 504.8 100.9 504.8 100.9 506.0 100.9 506.0 100.8 507.2 100.8 507.2 100.9 508.4 100.9 508.4 100.6 509.6 100.6 509.6 100.7 510.8 100.7 510.8 101.0 512.0 101.0 512.0 100.8 513.2 100.8 513.2 101.0 514.4 101.0 514.4 100.6 515.6 100.6 515.6 100.8 516.8 100.8 516.8 101.0 518.0 101.0 518.0 100.7 519.2 100.7 519.2 100.9 520.4 100.9 520.4 99.7 521.6 99.7 521.6 101.0 522.8 101.0 522.8 101.0 524.0 101.0 524.0 100.9 525.2 100.9 525.2 100.4 526.4 100.4 526.4 100.9 527.6 100.9 527.6 100.8 528.8 100.8 528.8 100.3 530.0 100.3 530.0 100.8 531.2 100.8 531.2 100.9 532.4 100.9 532.4 100.9 533.6 100.9 533.6 100.8 534.8 100.8 534.8 100.9 536.0 100.9 536.0 100.9 537.2 100.9 537.2 101.0 538.4 101.0 538.4 100.9 539.6 100.9 539.6 100.7 540.8 100.7 540.8 100.1 542.0 100.1 542.0 101.0 543.2 101.0 543.2 101.0 544.4 101.0 544.4 100.9 545.6 100.9 545.6 100.9 546.8 100.9 546.8 100.8 548.0 100.8 548.0 100.9 549.2 100.9 549.2 100.9 550.4 100.9 550.4 100.9 551.6 100.9 551.6 100.2 552.8 100.2 552.8 100.5 554.0 100.5 554.0 99.6 555.2 99.6 555.2 100.2 556.4 100.2 556.4 99.9 557.6 99.9 557.6 100.3 558.8 100.3 558.8 99.9 560.0 99.9 560.0 100.9 561.2 100.9 561.2 100.3 562.4 100.3 562.4 100.9 563.6 100.9 563.6 100.8 564.8 100.8 564.8 100.9 566.0 100.9 566.0 100.8 567.2 100.8 567.2 100.9 568.4 100.9 568.4 101.0 569.6 101.0 569.6 100.8 570.8 100.8 570.8 100.9 572.0 100.9 572.0 100.8 573.2 100.8 573.2 100.9 574.4 100.9 574.4 100.7 575.6 100.7 575.6 100.9 576.8 100.9 576.8 100.9 578.0 100.9 578.0 100.8 579.2 100.8 579.2 101.0 580.4 101.0 580.4 101.0 581.6 101.0 581.6 100.9 582.8 100.9 582.8 100.8 584.0 100.8 584.0 100.8 585.2 100.8 585.2 99.7 586.4 99.7 586.4 100.3 587.6 100.3 587.6 100.5 588.8 100.5 588.8 100.8 590.0 100.8 590.0 100.8 591.2 100.8 591.2 100.9 592.4 100.9 592.4 100.8 593.6 100.8 593.6 100.8 594.8 100.8 594.8 100.9 596.0 100.9 596.0 100.8 597.2 100.8 597.2 100.9 598.4 100.9 598.4 100.1 599.6 100.1 599.6 100.0 600.8 100.0 600.8 100.7 602.0 100.7 602.0 100.7 603.2 100.7 603.2 100.9 604.4 100.9 604.4 100.7 605.6 100.7 605.6 100.9 606.8 100.9 606.8 100.8 608.0 100.8 608.0 100.9 609.2 100.9 609.2 99.8 610.4 99.8 610.4 100.0 611.6 100.0 611.6 100.9 612.8 100.9 612.8 100.9 614.0 100.9 614.0 101.0 615.2 101.0 615.2 101.0 616.4 101.0 616.4 101.0 617.6 101.0 617.6 100.0 618.8 100.0 618.8 100.4 620.0 100.4 620.0 100.3 621.2 100.3 621.2 100.9 622.4 100.9 622.4 99.8 623.6 99.8 623.6 100.8 624.8 100.8 624.8 100.4 626.0 100.4 626.0 100.9 627.2 100.9 627.2 100.8 628.4 100.8 628.4 101.0 629.6 101.0 629.6 100.9 630.8 100.9 630.8 100.2 632.0 100.2 632.0 99.9 633.2 99.9 633.2 100.0 634.4 100.0 634.4 100.2 635.6 100.2 635.6 100.9 636.8 100.9 636.8 100.8 638.0 100.8 638.0 100.8 639.2 100.8 639.2 100.8 640.4 100.8 640.4 100.8 641.6 100.8 641.6 100.8 642.8 100.8 642.8 100.2 644.0 100.2 644.0 100.0 645.2 100.0 645.2 100.9 646.4 100.9 646.4 100.9 647.6 100.9 647.6 100.8 648.8 100.8 648.8 100.8 650.0 100.8 650.0 100.2 651.2 100.2 651.2 100.5 652.4 100.5 652.4 100.2 653.6 100.2 653.6 99.6 654.8 99.6 654.8 100.6 656.0 100.6 656.0 100.8 657.2 100.8 657.2 100.4 658.4 100.4 658.4 100.9 659.6 100.9 659.6 100.8 660.8 100.8 660.8 100.9 662.0 100.9 662.0 100.7 663.2 100.7 663.2 100.6 664.4 100.6 664.4 100.9 665.6 100.9 665.6 100.9 666.8 100.9 666.8 100.8 668.0 100.8 668.0 100.7 669.2 100.7 669.2 100.4 670.4 100.4 670.4 100.9 671.6 100.9 671.6 99.7 672.8 99.7 672.8 100.8 674.0 100.8 674.0 100.8 675.2 100.8 675.2 100.9 676.4 100.9 676.4 100.9 677.6 100.9 677.6 100.9 678.8 100.9 678.8 100.9 680.0 100.9 680.0 101.0 681.2 101.0 681.2 100.6 682.4 100.6 682.4 100.9 683.6 100.9 683.6 100.3 684.8 100.3 684.8 100.8 686.0 100.8 686.0 100.4 687.2 100.4 687.2 100.2 688.4 100.2 688.4 100.8 689.6 100.8 689.6 100.8 690.8 100.8 690.8 100.8 692.0 100.8 692.0 100.8 693.2 100.8 693.2 100.8 694.4 100.8 694.4 100.0 695.6 100.0 695.6 100.9 696.8 100.9 696.8 100.8 698.0 100.8 698.0 100.9 699.2 100.9 699.2 100.8 700.4 100.8 700.4 100.9 701.6 100.9 701.6 100.2 702.8 100.2 702.8 100.8 704.0 100.8 704.0 100.8 705.2 100.8 705.2 100.8 706.4 100.8 706.4 100.8 707.6 100.8 707.6 100.9 708.8 100.9 708.8 99.6 710.0 99.6 710.0 100.5 711.2 100.5 711.2 99.8 712.4 99.8 712.4 100.8 713.6 100.8 713.6 100.3 714.8 100.3 714.8 100.4 716.0 100.4 716.0 100.9 717.2 100.9 717.2 101.0 718.4 101.0 718.4 99.8 719.6 99.8 719.6 100.9 720.8 100.9 720.8 101.0 722.0 101.0 722.0 100.4 723.2 100.4 723.2 100.8 724.4 100.8 724.4 100.8 725.6 100.8 725.6 100.9 726.8 100.9 726.8 100.9 728.0 100.9 728.0 100.9 729.2 100.9 729.2 100.2 730.4 100.2 730.4 100.8 731.6 100.8 731.6 100.9 732.8 100.9 732.8 100.6 734.0 100.6 734.0 100.9 735.2 100.9 735.2 100.9 736.4 100.9 736.4 100.6 737.6 100.6 737.6 99.9 738.8 99.9 738.8 100.8 740.0 100.8 740.0 100.9 741.2 100.9 741.2 100.1 742.4 100.1 742.4 100.8 743.6 100.8 743.6 99.7 744.8 99.7 744.8 100.9 746.0 100.9 746.0 100.8 747.2 100.8 747.2 100.4 748.4 100.4 748.4 101.0 749.6 101.0 749.6 100.5 750.8 100.5 750.8 100.2 752.0 100.2 752.0 100.8 753.2 100.8 753.2 100.5 754.4 100.5 754.4 100.9 755.6 100.9 755.6 100.5 756.8 100.5 756.8 100.8 758.0 100.8 758.0 99.8 759.2 99.8 759.2 100.8 760.4 100.8 760.4 100.0 761.6 100.0 761.6 100.8 762.8 100.8 762.8 100.9 764.0 100.9 764.0 100.8 765.2 100.8 765.2 100.8 766.4 100.8 766.4 100.7 767.6 100.7 767.6 100.7 768.8 100.7 768.8 100.9 770.0 100.9 770.0 100.9 771.2 100.9 771.2 100.8 772.4 100.8 772.4 100.8 773.6 100.8 773.6 100.0 774.8 100.0 774.8 100.3 776.0 100.3 776.0 100.9 777.2 100.9 777.2 100.6 778.4 100.6 778.4 100.8 779.6 100.8 779.6 100.9 780.8 100.9 780.8 100.9 782.0 100.9 782.0 100.8 783.2 100.8 783.2 101.0 784.4 101.0 784.4 101.0 785.6 101.0 785.6 100.9 786.8 100.9 786.8 100.0 788.0 100.0 788.0 100.1 789.2 100.1 789.2 100.9 790.4 100.9 790.4 100.9 791.6 100.9 791.6 100.8 792.8 100.8 792.8 100.8 794.0 100.8 794.0 100.9 795.2 100.9 795.2 100.8 796.4 100.8 796.4 100.9 797.6 100.9 797.6 100.9 798.8 100.9 798.8 100.8 800.0 100.8 800.0 100.9 801.2 100.9 801.2 100.8 802.4 100.8 802.4 101.0 803.6 101.0 803.6 101.0 804.8 101.0 804.8 100.8 806.0 100.8 806.0 100.8 807.2 100.8 807.2 100.8 808.4 100.8 808.4 100.9 809.6 100.9 809.6 100.9 810.8 100.9 810.8 101.0 812.0 101.0 812.0 100.2 813.2 100.2 813.2 100.9 814.4 100.9 814.4 100.9 815.6 100.9 815.6 101.0 816.8 101.0 816.8 101.0 818.0 101.0 818.0 100.8 819.2 100.8 819.2 100.8 820.4 100.8 820.4 100.8 821.6 100.8 821.6 100.8 822.8 100.8 822.8 100.9 824.0 100.9 824.0 100.0 825.2 100.0 825.2 100.9 826.4 100.9 826.4 100.9 827.6 100.9 827.6 100.8 828.8 100.8 828.8 100.8 830.0 100.8 830.0 100.4 831.2 100.4 831.2 100.9 832.4 100.9 832.4 100.6 833.6 100.6 833.6 100.9 834.8 100.9 834.8 100.8 836.0 100.8 836.0 100.9 837.2 100.9 837.2 100.9 838.4 100.9 838.4 100.8 839.6 100.8 839.6 100.2 840.8 100.2 840.8 100.2 842.0 100.2 842.0 100.8 843.2 100.8 843.2 100.9 844.4 100.9 844.4 100.9 845.6 100.9 845.6 100.8 846.8 100.8 846.8 101.0 848.0 101.0 848.0 100.9 849.2 100.9 849.2 100.6 850.4 100.6 850.4 100.5 851.6 100.5 851.6 100.8 852.8 100.8 852.8 100.9 854.0 100.9 854.0 100.8 855.2 100.8 855.2 101.0 856.4 101.0 856.4 100.9 857.6 100.9 857.6 100.9 858.8 100.9 858.8 100.3 860.0 100.3 860.0 101.0 861.2 101.0 861.2 100.9 862.4 100.9 862.4 101.0 863.6 101.0 863.6 100.2 864.8 100.2 864.8 100.9 866.0 100.9 866.0 100.2 867.2 100.2 867.2 100.9 868.4 100.9 868.4 100.9 869.6 100.9 869.6 100.0 870.8 100.0 870.8 100.9 872.0 100.9 872.0 100.5 873.2 100.5 873.2 99.8 874.4 99.8 874.4 100.9 875.6 100.9 875.6 100.8 876.8 100.8 876.8 101.0 878.0 101.0 878.0 100.8 879.2 100.8 879.2 100.8 880.4 100.8 880.4 100.8 881.6 100.8 881.6 99.7 882.8 99.7 882.8 100.6 884.0 100.6 884.0 100.9 885.2 100.9 885.2 100.9 886.4 100.9 886.4 100.9 887.6 100.9 887.6 101.0 888.8 101.0 888.8 100.8 890.0 100.8 890.0 100.9 891.2 100.9 891.2 100.8 892.4 100.8 892.4 100.9 893.6 100.9 893.6 100.9 894.8 100.9 894.8 100.8 896.0 100.8 896.0 100.9 897.2 100.9 897.2 100.9 898.4 100.9 898.4 100.8 899.6 100.8 899.6 100.8 900.8 100.8 900.8 101.0 902.0 101.0 902.0 100.9 903.2 100.9 903.2 100.4 904.4 100.4 904.4 100.3 905.6 100.3 905.6 100.9 906.8 100.9 906.8 100.9 908.0 100.9 908.0 100.9 909.2 100.9 909.2 100.8 910.4 100.8 910.4 100.8 911.6 100.8 911.6 100.9 912.8 100.9 912.8 100.7 914.0 100.7 914.0 100.8 915.2 100.8 915.2 101.0 916.4 101.0 916.4 100.5 917.6 100.5 917.6 100.8 918.8 100.8 918.8 100.5 920.0 100.5 920.0 100.9 921.2 100.9 921.2 100.8 922.4 100.8 922.4 100.8 923.6 100.8 923.6 101.0 924.8 101.0 924.8 100.9 926.0 100.9 926.0 100.5 927.2 100.5 927.2 100.8 928.4 100.8 928.4 100.9 929.6 100.9 929.6 100.9 930.8 100.9 930.8 100.8 932.0 100.8 932.0 100.8 933.2 100.8 933.2 100.8 934.4 100.8 934.4 100.2 935.6 100.2 935.6 100.9 936.8 100.9 936.8 101.0 938.0 101.0 938.0 100.9 939.2 100.9 939.2 100.8 940.4 100.8 940.4 101.0 941.6 101.0 941.6 100.6 942.8 100.6 942.8 100.8 944.0 100.8 944.0 100.9 945.2 100.9 945.2 99.8 946.4 99.8 946.4 100.9 947.6 100.9 947.6 101.0 948.8 101.0 948.8 100.9 950.0 100.9 950.0 100.9 951.2 100.9 951.2 100.2 952.4 100.2 952.4 101.0 953.6 101.0 953.6 99.7 954.8 99.7 954.8 100.9 956.0 100.9 956.0 100.4 957.2 100.4 957.2 100.3 958.4 100.3 958.4 100.4 959.6 100.4 959.6 100.8 960.8 100.8 960.8 100.9 962.0 100.9 962.0 100.8 963.2 100.8 963.2 101.0 964.4 101.0 964.4 100.3 965.6 100.3 965.6 100.8 966.8 100.8 966.8 100.8 968.0 100.8 968.0 100.9 969.2 100.9 969.2 100.9 970.4 100.9 970.4 100.9 971.6 100.9 971.6 100.8 972.8 100.8 972.8 100.8 974.0 100.8 974.0 99.8 975.2 99.8 975.2 99.7 976.4 99.7 976.4 100.8 977.6 100.8 977.6 100.9 978.8 100.9 978.8 100.8 980.0 100.8 980.0 101.0 981.2 101.0 981.2 100.8 982.4 100.8 982.4 100.8 983.6 100.8 983.6 100.9 984.8 100.9 984.8 100.9 986.0 100.9 986.0 100.9 987.2 100.9 987.2 100.8 988.4 100.8 988.4 101.0 989.6 101.0 989.6 99.8 990.8 99.8 990.8 100.3 992.0 100.3 992.0 101.0 993.2 101.0 993.2 100.8 994.4 100.8 994.4 100.9 995.6 100.9 995.6 101.0 996.8 101.0 996.8 100.4 998.0 100.4 998.0 100.9 999.2 100.9 999.2 100.1 1000.4 100.1 1000.4 100.6 1001.6 100.6 1001.6 100.8 1002.8 100.8 1002.8 100.9 1004.0 100.9 1004.0 100.3 1005.2 100.3 1005.2 101.0 1006.4 101.0 1006.4 100.1 1007.6 100.1 1007.6 100.9 1008.8 100.9 1008.8 100.9 1010.0 100.9 1010.0 100.3 1011.2 100.3 1011.2 101.0 1012.4 101.0 1012.4 100.8 1013.6 100.8 1013.6 100.8 1014.8 100.8 1014.8 100.9 1016.0 100.9 1016.0 100.1 1017.2 100.1 1017.2 100.9 1018.4 100.9 1018.4 101.0 1019.6 101.0 1019.6 101.0 1020.8 101.0 1020.8 100.4 1022.0 100.4 1022.0 100.2 1023.2 100.2 1023.2 101.0 1024.4 101.0 1024.4 100.9 1025.6 100.9 1025.6 99.8 1026.8 99.8 1026.8 99.9 1028.0 99.9 1028.0 100.9 1029.2 100.9 1029.2 100.8 1030.4 100.8 1030.4 100.1 1031.6 100.1 1031.6 100.4 1032.8 100.4 1032.8 100.9 1034.0 100.9 1034.0 100.9 1035.2 100.9 1035.2 100.8 1036.4 100.8 1036.4 101.0 1037.6 101.0 1037.6 100.8 1038.8 100.8 1038.8 100.1 1040.0 100.1 1040.0 101.0 1041.2 101.0 1041.2 99.8 1042.4 99.8 1042.4 100.9 1043.6 100.9 1043.6 99.9 1044.8 99.9 1044.8 100.5 1046.0 100.5 1046.0 100.8 1047.2 100.8 1047.2 100.9 1048.4 100.9 1048.4 100.9 1049.6 100.9 1049.6 100.8 1050.8 100.8 1050.8 99.7 1052.0 99.7 1052.0 100.9 1053.2 100.9 1053.2 99.9 1054.4 99.9 1054.4 100.9 1055.6 100.9 1055.6 99.8 1056.8 99.8 1056.8 101.0 1058.0 101.0 1058.0 101.0 1059.2 101.0 1059.2 99.9 1060.4 99.9 1060.4 100.6 1061.6 100.6 1061.6 100.6 1062.8 100.6 1062.8 100.2 1064.0 100.2 1064.0 101.0 1065.2 101.0 1065.2 100.8 1066.4 100.8 1066.4 100.8 1067.6 100.8 1067.6 100.9 1068.8 100.9 1068.8 100.9 1070.0 100.9 1070.0 100.8 1071.2 100.8 1071.2 100.8 1072.4 100.8 1072.4 100.9 1073.6 100.9 1073.6 100.8 1074.8 100.8 1074.8 100.9 1076.0 100.9 1076.0 100.9 1077.2 100.9 1077.2 101.0 1078.4 101.0 1078.4 100.9 1079.6 100.9 1079.6 100.8 1080.8 100.8 1080.8 100.9 1082.0 100.9 1082.0 100.3 1083.2 100.3 1083.2 100.8 1084.4 100.8 1084.4 100.9 1085.6 100.9 1085.6 100.9 1086.8 100.9 1086.8 100.8 1088.0 100.8 1088.0 99.7 1089.2 99.7 1089.2 100.9 1090.4 100.9 1090.4 100.8 1091.6 100.8 1091.6 101.0 1092.8 101.0 1092.8 100.8 1094.0 100.8 1094.0 100.9 1095.2 100.9 1095.2 100.9 1096.4 100.9 1096.4 100.0 1097.6 100.0 1097.6 100.2 1098.8 100.2 1098.8 101.0 1100.0 101.0 1100.0 100.5 1101.2 100.5 1101.2 99.6 1102.4 99.6 1102.4 100.9 1103.6 100.9 1103.6 100.0 1104.8 100.0 1104.8 100.5 1106.0 100.5 1106.0 100.8 1107.2 100.8 1107.2 100.9 1108.4 100.9 1108.4 100.9 1109.6 100.9 1109.6 100.9 1110.8 100.9 1110.8 100.9 1112.0 100.9 1112.0 100.8 1113.2 100.8 1113.2 99.8 1114.4 99.8 1114.4 100.9 1114.6 100.9 1114.6 106.6 1114.4 106.6 1114.4 106.5 1113.2 106.5 1113.2 107.2 1112.0 107.2 1112.0 106.4 1110.8 106.4 1110.8 107.7 1109.6 107.7 1109.6 107.3 1108.4 107.3 1108.4 106.5 1107.2 106.5 1107.2 107.5 1106.0 107.5 1106.0 106.5 1104.8 106.5 1104.8 106.6 1103.6 106.6 1103.6 107.7 1102.4 107.7 1102.4 106.4 1101.2 106.4 1101.2 106.8 1100.0 106.8 1100.0 106.6 1098.8 106.6 1098.8 107.2 1097.6 107.2 1097.6 107.7 1096.4 107.7 1096.4 106.4 1095.2 106.4 1095.2 106.5 1094.0 106.5 1094.0 106.6 1092.8 106.6 1092.8 107.6 1091.6 107.6 1091.6 106.4 1090.4 106.4 1090.4 107.1 1089.2 107.1 1089.2 106.5 1088.0 106.5 1088.0 106.4 1086.8 106.4 1086.8 106.6 1085.6 106.6 1085.6 106.6 1084.4 106.6 1084.4 106.5 1083.2 106.5 1083.2 106.5 1082.0 106.5 1082.0 107.4 1080.8 107.4 1080.8 106.6 1079.6 106.6 1079.6 106.6 1078.4 106.6 1078.4 106.6 1077.2 106.6 1077.2 106.6 1076.0 106.6 1076.0 107.7 1074.8 107.7 1074.8 107.1 1073.6 107.1 1073.6 107.1 1072.4 107.1 1072.4 107.4 1071.2 107.4 1071.2 107.7 1070.0 107.7 1070.0 107.6 1068.8 107.6 1068.8 106.4 1067.6 106.4 1067.6 106.6 1066.4 106.6 1066.4 106.5 1065.2 106.5 1065.2 106.4 1064.0 106.4 1064.0 106.5 1062.8 106.5 1062.8 106.5 1061.6 106.5 1061.6 106.5 1060.4 106.5 1060.4 106.7 1059.2 106.7 1059.2 107.7 1058.0 107.7 1058.0 106.7 1056.8 106.7 1056.8 106.4 1055.6 106.4 1055.6 106.6 1054.4 106.6 1054.4 106.5 1053.2 106.5 1053.2 106.5 1052.0 106.5 1052.0 106.6 1050.8 106.6 1050.8 106.6 1049.6 106.6 1049.6 107.3 1048.4 107.3 1048.4 106.5 1047.2 106.5 1047.2 106.6 1046.0 106.6 1046.0 106.6 1044.8 106.6 1044.8 106.5 1043.6 106.5 1043.6 107.3 1042.4 107.3 1042.4 106.6 1041.2 106.6 1041.2 106.6 1040.0 106.6 1040.0 107.7 1038.8 107.7 1038.8 106.6 1037.6 106.6 1037.6 106.6 1036.4 106.6 1036.4 106.5 1035.2 106.5 1035.2 106.6 1034.0 106.6 1034.0 107.7 1032.8 107.7 1032.8 107.0 1031.6 107.0 1031.6 107.6 1030.4 107.6 1030.4 106.6 1029.2 106.6 1029.2 107.3 1028.0 107.3 1028.0 106.5 1026.8 106.5 1026.8 107.7 1025.6 107.7 1025.6 107.5 1024.4 107.5 1024.4 106.6 1023.2 106.6 1023.2 106.4 1022.0 106.4 1022.0 106.9 1020.8 106.9 1020.8 107.8 1019.6 107.8 1019.6 107.7 1018.4 107.7 1018.4 107.1 1017.2 107.1 1017.2 106.6 1016.0 106.6 1016.0 106.4 1014.8 106.4 1014.8 107.1 1013.6 107.1 1013.6 106.8 1012.4 106.8 1012.4 106.5 1011.2 106.5 1011.2 106.5 1010.0 106.5 1010.0 107.1 1008.8 107.1 1008.8 107.1 1007.6 107.1 1007.6 106.6 1006.4 106.6 1006.4 107.7 1005.2 107.7 1005.2 106.5 1004.0 106.5 1004.0 106.7 1002.8 106.7 1002.8 106.4 1001.6 106.4 1001.6 107.5 1000.4 107.5 1000.4 106.5 999.2 106.5 999.2 106.6 998.0 106.6 998.0 106.6 996.8 106.6 996.8 106.5 995.6 106.5 995.6 106.6 994.4 106.6 994.4 106.6 993.2 106.6 993.2 106.5 992.0 106.5 992.0 106.6 990.8 106.6 990.8 106.6 989.6 106.6 989.6 106.5 988.4 106.5 988.4 106.7 987.2 106.7 987.2 106.5 986.0 106.5 986.0 106.6 984.8 106.6 984.8 106.4 983.6 106.4 983.6 106.5 982.4 106.5 982.4 106.6 981.2 106.6 981.2 106.5 980.0 106.5 980.0 106.4 978.8 106.4 978.8 106.6 977.6 106.6 977.6 107.3 976.4 107.3 976.4 107.0 975.2 107.0 975.2 107.0 974.0 107.0 974.0 106.9 972.8 106.9 972.8 106.6 971.6 106.6 971.6 106.8 970.4 106.8 970.4 106.4 969.2 106.4 969.2 106.5 968.0 106.5 968.0 106.5 966.8 106.5 966.8 106.5 965.6 106.5 965.6 106.4 964.4 106.4 964.4 106.5 963.2 106.5 963.2 106.6 962.0 106.6 962.0 106.6 960.8 106.6 960.8 106.4 959.6 106.4 959.6 106.5 958.4 106.5 958.4 106.5 957.2 106.5 957.2 106.6 956.0 106.6 956.0 107.3 954.8 107.3 954.8 106.4 953.6 106.4 953.6 107.8 952.4 107.8 952.4 106.9 951.2 106.9 951.2 106.5 950.0 106.5 950.0 106.4 948.8 106.4 948.8 106.6 947.6 106.6 947.6 106.5 946.4 106.5 946.4 106.5 945.2 106.5 945.2 106.6 944.0 106.6 944.0 106.6 942.8 106.6 942.8 106.6 941.6 106.6 941.6 107.1 940.4 107.1 940.4 106.5 939.2 106.5 939.2 106.4 938.0 106.4 938.0 107.4 936.8 107.4 936.8 106.6 935.6 106.6 935.6 106.9 934.4 106.9 934.4 106.6 933.2 106.6 933.2 106.6 932.0 106.6 932.0 106.5 930.8 106.5 930.8 107.4 929.6 107.4 929.6 107.1 928.4 107.1 928.4 106.6 927.2 106.6 927.2 106.5 926.0 106.5 926.0 106.6 924.8 106.6 924.8 106.5 923.6 106.5 923.6 106.9 922.4 106.9 922.4 107.7 921.2 107.7 921.2 106.5 920.0 106.5 920.0 106.6 918.8 106.6 918.8 107.6 917.6 107.6 917.6 106.5 916.4 106.5 916.4 106.6 915.2 106.6 915.2 106.5 914.0 106.5 914.0 106.6 912.8 106.6 912.8 106.4 911.6 106.4 911.6 107.0 910.4 107.0 910.4 106.4 909.2 106.4 909.2 106.6 908.0 106.6 908.0 106.5 906.8 106.5 906.8 106.6 905.6 106.6 905.6 106.9 904.4 106.9 904.4 106.4 903.2 106.4 903.2 106.6 902.0 106.6 902.0 106.6 900.8 106.6 900.8 106.9 899.6 106.9 899.6 106.6 898.4 106.6 898.4 106.6 897.2 106.6 897.2 106.6 896.0 106.6 896.0 106.5 894.8 106.5 894.8 106.5 893.6 106.5 893.6 107.6 892.4 107.6 892.4 106.5 891.2 106.5 891.2 106.5 890.0 106.5 890.0 106.4 888.8 106.4 888.8 106.6 887.6 106.6 887.6 106.6 886.4 106.6 886.4 106.5 885.2 106.5 885.2 106.6 884.0 106.6 884.0 106.5 882.8 106.5 882.8 106.6 881.6 106.6 881.6 106.4 880.4 106.4 880.4 106.5 879.2 106.5 879.2 107.5 878.0 107.5 878.0 107.8 876.8 107.8 876.8 107.2 875.6 107.2 875.6 106.5 874.4 106.5 874.4 106.5 873.2 106.5 873.2 106.5 872.0 106.5 872.0 107.8 870.8 107.8 870.8 107.2 869.6 107.2 869.6 107.7 868.4 107.7 868.4 106.5 867.2 106.5 867.2 106.6 866.0 106.6 866.0 106.5 864.8 106.5 864.8 106.6 863.6 106.6 863.6 106.5 862.4 106.5 862.4 106.5 861.2 106.5 861.2 106.6 860.0 106.6 860.0 106.4 858.8 106.4 858.8 106.6 857.6 106.6 857.6 107.1 856.4 107.1 856.4 107.3 855.2 107.3 855.2 106.6 854.0 106.6 854.0 106.5 852.8 106.5 852.8 106.6 851.6 106.6 851.6 106.4 850.4 106.4 850.4 107.5 849.2 107.5 849.2 106.8 848.0 106.8 848.0 107.1 846.8 107.1 846.8 106.6 845.6 106.6 845.6 106.6 844.4 106.6 844.4 106.6 843.2 106.6 843.2 106.6 842.0 106.6 842.0 106.6 840.8 106.6 840.8 106.5 839.6 106.5 839.6 106.4 838.4 106.4 838.4 106.5 837.2 106.5 837.2 106.5 836.0 106.5 836.0 106.5 834.8 106.5 834.8 106.5 833.6 106.5 833.6 106.4 832.4 106.4 832.4 107.0 831.2 107.0 831.2 106.4 830.0 106.4 830.0 107.2 828.8 107.2 828.8 106.6 827.6 106.6 827.6 106.4 826.4 106.4 826.4 106.4 825.2 106.4 825.2 106.9 824.0 106.9 824.0 106.6 822.8 106.6 822.8 106.9 821.6 106.9 821.6 106.5 820.4 106.5 820.4 106.5 819.2 106.5 819.2 106.4 818.0 106.4 818.0 106.6 816.8 106.6 816.8 107.7 815.6 107.7 815.6 106.5 814.4 106.5 814.4 106.5 813.2 106.5 813.2 107.3 812.0 107.3 812.0 107.1 810.8 107.1 810.8 106.9 809.6 106.9 809.6 107.4 808.4 107.4 808.4 107.5 807.2 107.5 807.2 107.7 806.0 107.7 806.0 106.5 804.8 106.5 804.8 107.7 803.6 107.7 803.6 106.4 802.4 106.4 802.4 106.5 801.2 106.5 801.2 106.5 800.0 106.5 800.0 106.4 798.8 106.4 798.8 106.4 797.6 106.4 797.6 106.6 796.4 106.6 796.4 106.5 795.2 106.5 795.2 106.9 794.0 106.9 794.0 106.5 792.8 106.5 792.8 106.5 791.6 106.5 791.6 107.3 790.4 107.3 790.4 106.5 789.2 106.5 789.2 106.5 788.0 106.5 788.0 106.5 786.8 106.5 786.8 107.5 785.6 107.5 785.6 106.6 784.4 106.6 784.4 107.5 783.2 107.5 783.2 106.5 782.0 106.5 782.0 107.8 780.8 107.8 780.8 106.5 779.6 106.5 779.6 106.6 778.4 106.6 778.4 106.5 777.2 106.5 777.2 106.5 776.0 106.5 776.0 106.6 774.8 106.6 774.8 106.5 773.6 106.5 773.6 107.6 772.4 107.6 772.4 107.7 771.2 107.7 771.2 106.4 770.0 106.4 770.0 106.6 768.8 106.6 768.8 107.4 767.6 107.4 767.6 106.5 766.4 106.5 766.4 107.2 765.2 107.2 765.2 106.5 764.0 106.5 764.0 106.5 762.8 106.5 762.8 106.5 761.6 106.5 761.6 106.5 760.4 106.5 760.4 107.2 759.2 107.2 759.2 106.4 758.0 106.4 758.0 106.5 756.8 106.5 756.8 106.7 755.6 106.7 755.6 106.5 754.4 106.5 754.4 106.6 753.2 106.6 753.2 107.7 752.0 107.7 752.0 106.5 750.8 106.5 750.8 106.5 749.6 106.5 749.6 106.5 748.4 106.5 748.4 106.6 747.2 106.6 747.2 106.6 746.0 106.6 746.0 106.5 744.8 106.5 744.8 106.5 743.6 106.5 743.6 106.6 742.4 106.6 742.4 107.2 741.2 107.2 741.2 107.0 740.0 107.0 740.0 107.2 738.8 107.2 738.8 107.7 737.6 107.7 737.6 106.5 736.4 106.5 736.4 106.5 735.2 106.5 735.2 107.0 734.0 107.0 734.0 106.4 732.8 106.4 732.8 106.4 731.6 106.4 731.6 106.6 730.4 106.6 730.4 107.0 729.2 107.0 729.2 106.6 728.0 106.6 728.0 106.5 726.8 106.5 726.8 106.4 725.6 106.4 725.6 106.4 724.4 106.4 724.4 107.0 723.2 107.0 723.2 106.6 722.0 106.6 722.0 106.5 720.8 106.5 720.8 106.5 719.6 106.5 719.6 107.2 718.4 107.2 718.4 106.5 717.2 106.5 717.2 107.4 716.0 107.4 716.0 106.6 714.8 106.6 714.8 106.8 713.6 106.8 713.6 106.5 712.4 106.5 712.4 107.4 711.2 107.4 711.2 106.5 710.0 106.5 710.0 106.5 708.8 106.5 708.8 106.5 707.6 106.5 707.6 106.6 706.4 106.6 706.4 106.6 705.2 106.6 705.2 106.6 704.0 106.6 704.0 106.4 702.8 106.4 702.8 106.6 701.6 106.6 701.6 106.6 700.4 106.6 700.4 107.6 699.2 107.6 699.2 106.5 698.0 106.5 698.0 106.6 696.8 106.6 696.8 106.5 695.6 106.5 695.6 106.4 694.4 106.4 694.4 106.6 693.2 106.6 693.2 106.6 692.0 106.6 692.0 106.6 690.8 106.6 690.8 106.4 689.6 106.4 689.6 106.5 688.4 106.5 688.4 106.4 687.2 106.4 687.2 106.5 686.0 106.5 686.0 106.4 684.8 106.4 684.8 106.4 683.6 106.4 683.6 107.0 682.4 107.0 682.4 106.4 681.2 106.4 681.2 106.5 680.0 106.5 680.0 106.6 678.8 106.6 678.8 106.6 677.6 106.6 677.6 106.6 676.4 106.6 676.4 107.5 675.2 107.5 675.2 106.9 674.0 106.9 674.0 106.6 672.8 106.6 672.8 107.4 671.6 107.4 671.6 107.5 670.4 107.5 670.4 106.9 669.2 106.9 669.2 106.5 668.0 106.5 668.0 106.5 666.8 106.5 666.8 106.5 665.6 106.5 665.6 106.6 664.4 106.6 664.4 107.1 663.2 107.1 663.2 107.2 662.0 107.2 662.0 106.5 660.8 106.5 660.8 106.6 659.6 106.6 659.6 107.0 658.4 107.0 658.4 106.9 657.2 106.9 657.2 106.5 656.0 106.5 656.0 106.6 654.8 106.6 654.8 106.5 653.6 106.5 653.6 106.8 652.4 106.8 652.4 106.6 651.2 106.6 651.2 107.3 650.0 107.3 650.0 107.7 648.8 107.7 648.8 106.5 647.6 106.5 647.6 106.5 646.4 106.5 646.4 107.6 645.2 107.6 645.2 106.6 644.0 106.6 644.0 106.5 642.8 106.5 642.8 106.5 641.6 106.5 641.6 106.4 640.4 106.4 640.4 106.6 639.2 106.6 639.2 107.7 638.0 107.7 638.0 107.2 636.8 107.2 636.8 106.6 635.6 106.6 635.6 107.1 634.4 107.1 634.4 107.4 633.2 107.4 633.2 106.4 632.0 106.4 632.0 106.4 630.8 106.4 630.8 106.5 629.6 106.5 629.6 106.6 628.4 106.6 628.4 106.5 627.2 106.5 627.2 106.5 626.0 106.5 626.0 106.5 624.8 106.5 624.8 107.0 623.6 107.0 623.6 106.6 622.4 106.6 622.4 106.5 621.2 106.5 621.2 106.4 620.0 106.4 620.0 106.5 618.8 106.5 618.8 107.0 617.6 107.0 617.6 107.2 616.4 107.2 616.4 106.5 615.2 106.5 615.2 106.6 614.0 106.6 614.0 106.4 612.8 106.4 612.8 106.6 611.6 106.6 611.6 106.4 610.4 106.4 610.4 107.3 609.2 107.3 609.2 106.5 608.0 106.5 608.0 106.4 606.8 106.4 606.8 106.5 605.6 106.5 605.6 107.4 604.4 107.4 604.4 106.4 603.2 106.4 603.2 106.6 602.0 106.6 602.0 107.2 600.8 107.2 600.8 106.4 599.6 106.4 599.6 106.5 598.4 106.5 598.4 106.6 597.2 106.6 597.2 106.4 596.0 106.4 596.0 106.6 594.8 106.6 594.8 106.6 593.6 106.6 593.6 106.6 592.4 106.6 592.4 106.4 591.2 106.4 591.2 106.5 590.0 106.5 590.0 106.4 588.8 106.4 588.8 107.2 587.6 107.2 587.6 107.1 586.4 107.1 586.4 106.5 585.2 106.5 585.2 106.6 584.0 106.6 584.0 106.6 582.8 106.6 582.8 106.4 581.6 106.4 581.6 106.5 580.4 106.5 580.4 106.7 579.2 106.7 579.2 107.0 578.0 107.0 578.0 106.6 576.8 106.6 576.8 106.5 575.6 106.5 575.6 106.5 574.4 106.5 574.4 106.5 573.2 106.5 573.2 107.6 572.0 107.6 572.0 106.9 570.8 106.9 570.8 106.4 569.6 106.4 569.6 106.4 568.4 106.4 568.4 106.6 567.2 106.6 567.2 106.5 566.0 106.5 566.0 106.6 564.8 106.6 564.8 106.4 563.6 106.4 563.6 106.4 562.4 106.4 562.4 106.4 561.2 106.4 561.2 106.6 560.0 106.6 560.0 106.5 558.8 106.5 558.8 107.5 557.6 107.5 557.6 107.3 556.4 107.3 556.4 106.6 555.2 106.6 555.2 106.9 554.0 106.9 554.0 106.6 552.8 106.6 552.8 106.6 551.6 106.6 551.6 107.5 550.4 107.5 550.4 106.6 549.2 106.6 549.2 106.8 548.0 106.8 548.0 106.5 546.8 106.5 546.8 106.6 545.6 106.6 545.6 106.6 544.4 106.6 544.4 106.5 543.2 106.5 543.2 106.4 542.0 106.4 542.0 106.6 540.8 106.6 540.8 106.5 539.6 106.5 539.6 107.2 538.4 107.2 538.4 106.6 537.2 106.6 537.2 106.4 536.0 106.4 536.0 106.8 534.8 106.8 534.8 106.5 533.6 106.5 533.6 107.8 532.4 107.8 532.4 107.4 531.2 107.4 531.2 106.4 530.0 106.4 530.0 106.5 528.8 106.5 528.8 106.8 527.6 106.8 527.6 106.5 526.4 106.5 526.4 106.5 525.2 106.5 525.2 106.6 524.0 106.6 524.0 107.2 522.8 107.2 522.8 106.6 521.6 106.6 521.6 106.8 520.4 106.8 520.4 106.9 519.2 106.9 519.2 106.5 518.0 106.5 518.0 106.5 516.8 106.5 516.8 107.4 515.6 107.4 515.6 106.6 514.4 106.6 514.4 107.5 513.2 107.5 513.2 106.5 512.0 106.5 512.0 106.4 510.8 106.4 510.8 106.5 509.6 106.5 509.6 106.5 508.4 106.5 508.4 106.4 507.2 106.4 507.2 107.0 506.0 107.0 506.0 106.6 504.8 106.6 504.8 107.6 503.6 107.6 503.6 106.4 502.4 106.4 502.4 107.2 501.2 107.2 501.2 107.1 500.0 107.1 500.0 106.5 498.8 106.5 498.8 106.6 497.6 106.6 497.6 106.4 496.4 106.4 496.4 106.6 495.2 106.6 495.2 106.6 494.0 106.6 494.0 106.4 492.8 106.4 492.8 107.3 491.6 107.3 491.6 106.5 490.4 106.5 490.4 106.6 489.2 106.6 489.2 107.3 488.0 107.3 488.0 106.6 486.8 106.6 486.8 106.5 485.6 106.5 485.6 106.6 484.4 106.6 484.4 106.6 483.2 106.6 483.2 107.2 482.0 107.2 482.0 107.7 480.8 107.7 480.8 106.6 479.6 106.6 479.6 106.6 478.4 106.6 478.4 107.2 477.2 107.2 477.2 106.5 476.0 106.5 476.0 106.5 474.8 106.5 474.8 107.6 473.6 107.6 473.6 106.6 472.4 106.6 472.4 106.6 471.2 106.6 471.2 106.4 470.0 106.4 470.0 106.5 468.8 106.5 468.8 106.4 467.6 106.4 467.6 107.0 466.4 107.0 466.4 107.8 465.2 107.8 465.2 106.5 464.0 106.5 464.0 106.5 462.8 106.5 462.8 107.1 461.6 107.1 461.6 106.5 460.4 106.5 460.4 107.0 459.2 107.0 459.2 107.2 458.0 107.2 458.0 107.1 456.8 107.1 456.8 106.6 455.6 106.6 455.6 106.6 454.4 106.6 454.4 106.8 453.2 106.8 453.2 106.4 452.0 106.4 452.0 106.6 450.8 106.6 450.8 106.5 449.6 106.5 449.6 106.6 448.4 106.6 448.4 106.9 447.2 106.9 447.2 106.6 446.0 106.6 446.0 106.6 444.8 106.6 444.8 107.5 443.6 107.5 443.6 106.8 442.4 106.8 442.4 106.5 441.2 106.5 441.2 106.6 440.0 106.6 440.0 106.6 438.8 106.6 438.8 106.6 437.6 106.6 437.6 106.9 436.4 106.9 436.4 106.8 435.2 106.8 435.2 107.4 434.0 107.4 434.0 106.5 432.8 106.5 432.8 106.6 431.6 106.6 431.6 106.5 430.4 106.5 430.4 106.6 429.2 106.6 429.2 106.5 428.0 106.5 428.0 106.5 426.8 106.5 426.8 106.6 425.6 106.6 425.6 106.4 424.4 106.4 424.4 106.5 423.2 106.5 423.2 107.3 422.0 107.3 422.0 106.6 420.8 106.6 420.8 106.6 419.6 106.6 419.6 106.5 418.4 106.5 418.4 106.6 417.2 106.6 417.2 106.8 416.0 106.8 416.0 106.5 414.8 106.5 414.8 106.6 413.6 106.6 413.6 106.6 412.4 106.6 412.4 106.5 411.2 106.5 411.2 107.1 410.0 107.1 410.0 106.4 408.8 106.4 408.8 106.6 407.6 106.6 407.6 106.4 406.4 106.4 406.4 106.9 405.2 106.9 405.2 106.4 404.0 106.4 404.0 106.6 402.8 106.6 402.8 106.5 401.6 106.5 401.6 106.9 400.4 106.9 400.4 106.6 399.2 106.6 399.2 107.8 398.0 107.8 398.0 106.4 396.8 106.4 396.8 106.6 395.6 106.6 395.6 106.5 394.4 106.5 394.4 106.6 393.2 106.6 393.2 106.4 392.0 106.4 392.0 106.6 390.8 106.6 390.8 106.5 389.6 106.5 389.6 106.6 388.4 106.6 388.4 106.8 387.2 106.8 387.2 106.8 386.0 106.8 386.0 106.9 384.8 106.9 384.8 107.6 383.6 107.6 383.6 106.6 382.4 106.6 382.4 106.5 381.2 106.5 381.2 106.5 380.0 106.5 380.0 106.4 378.8 106.4 378.8 106.4 377.6 106.4 377.6 106.5 376.4 106.5 376.4 106.8 375.2 106.8 375.2 107.5 374.0 107.5 374.0 106.5 372.8 106.5 372.8 106.6 371.6 106.6 371.6 106.5 370.4 106.5 370.4 106.5 369.2 106.5 369.2 107.3 368.0 107.3 368.0 106.5 366.8 106.5 366.8 107.8 365.6 107.8 365.6 107.1 364.4 107.1 364.4 106.8 363.2 106.8 363.2 106.5 362.0 106.5 362.0 106.5 360.8 106.5 360.8 106.4 359.6 106.4 359.6 106.4 358.4 106.4 358.4 106.6 357.2 106.6 357.2 106.6 356.0 106.6 356.0 106.5 354.8 106.5 354.8 106.8 353.6 106.8 353.6 106.4 352.4 106.4 352.4 107.4 351.2 107.4 351.2 106.6 350.0 106.6 350.0 107.7 348.8 107.7 348.8 107.0 347.6 107.0 347.6 106.4 346.4 106.4 346.4 106.9 345.2 106.9 345.2 106.5 344.0 106.5 344.0 106.4 342.8 106.4 342.8 106.7 341.6 106.7 341.6 106.5 340.4 106.5 340.4 106.5 339.2 106.5 339.2 106.6 338.0 106.6 338.0 106.5 336.8 106.5 336.8 106.5 335.6 106.5 335.6 106.6 334.4 106.6 334.4 106.6 333.2 106.6 333.2 107.5 332.0 107.5 332.0 106.5 330.8 106.5 330.8 106.8 329.6 106.8 329.6 106.6 328.4 106.6 328.4 107.1 327.2 107.1 327.2 107.5 326.0 107.5 326.0 106.6 324.8 106.6 324.8 107.4 323.6 107.4 323.6 106.5 322.4 106.5 322.4 106.5 321.2 106.5 321.2 106.6 320.0 106.6 320.0 107.1 318.8 107.1 318.8 106.4 317.6 106.4 317.6 107.7 316.4 107.7 316.4 106.6 315.2 106.6 315.2 106.4 314.0 106.4 314.0 107.5 312.8 107.5 312.8 107.6 311.6 107.6 311.6 107.3 310.4 107.3 310.4 106.5 309.2 106.5 309.2 107.6 308.0 107.6 308.0 107.6 306.8 107.6 306.8 106.4 305.6 106.4 305.6 106.6 304.4 106.6 304.4 106.5 303.2 106.5 303.2 106.5 302.0 106.5 302.0 107.0 300.8 107.0 300.8 106.5 299.6 106.5 299.6 106.5 298.4 106.5 298.4 106.4 297.2 106.4 297.2 106.5 296.0 106.5 296.0 106.9 294.8 106.9 294.8 107.7 293.6 107.7 293.6 106.6 292.4 106.6 292.4 107.4 291.2 107.4 291.2 106.5 290.0 106.5 290.0 106.5 288.8 106.5 288.8 106.6 287.6 106.6 287.6 107.0 286.4 107.0 286.4 106.6 285.2 106.6 285.2 107.3 284.0 107.3 284.0 106.5 282.8 106.5 282.8 106.5 281.6 106.5 281.6 106.6 280.4 106.6 280.4 106.6 279.2 106.6 279.2 106.4 278.0 106.4 278.0 107.6 276.8 107.6 276.8 107.1 275.6 107.1 275.6 106.5 274.4 106.5 274.4 106.7 273.2 106.7 273.2 106.8 272.0 106.8 272.0 106.4 270.8 106.4 270.8 106.6 269.6 106.6 269.6 106.6 268.4 106.6 268.4 106.5 267.2 106.5 267.2 106.4 266.0 106.4 266.0 106.5 264.8 106.5 264.8 106.5 263.6 106.5 263.6 106.6 262.4 106.6 262.4 106.6 261.2 106.6 261.2 106.6 260.0 106.6 260.0 107.4 258.8 107.4 258.8 106.5 257.6 106.5 257.6 106.6 256.4 106.6 256.4 106.6 255.2 106.6 255.2 106.6 254.0 106.6 254.0 106.6 252.8 106.6 252.8 106.5 251.6 106.5 251.6 106.6 250.4 106.6 250.4 106.5 249.2 106.5 249.2 106.5 248.0 106.5 248.0 107.2 246.8 107.2 246.8 107.2 245.6 107.2 245.6 106.6 244.4 106.6 244.4 107.2 243.2 107.2 243.2 106.5 242.0 106.5 242.0 106.5 240.8 106.5 240.8 106.8 239.6 106.8 239.6 106.9 238.4 106.9 238.4 106.5 237.2 106.5 237.2 106.6 236.0 106.6 236.0 107.7 234.8 107.7 234.8 107.5 233.6 107.5 233.6 106.5 232.4 106.5 232.4 107.5 231.2 107.5 231.2 106.8 230.0 106.8 230.0 107.6 228.8 107.6 228.8 106.4 227.6 106.4 227.6 106.5 226.4 106.5 226.4 106.5 225.2 106.5 225.2 106.6 224.0 106.6 224.0 106.4 222.8 106.4 222.8 106.6 221.6 106.6 221.6 106.6 220.4 106.6 220.4 106.6 219.2 106.6 219.2 107.7 218.0 107.7 218.0 106.4 216.8 106.4 216.8 107.7 215.6 107.7 215.6 106.5 214.4 106.5 214.4 106.4 213.2 106.4 213.2 107.2 212.0 107.2 212.0 106.6 210.8 106.6Z" fill="#ee8636" stroke="none"/>
<path d="M670 101.5 L673.8 96.3 L679.2 95.7 V112.3 H676.6 L672 106.5Z" fill="#ee8636" stroke="none"/>
<path d="M261.1 102.0 V108.3 M279.6 95.2 V106.5 M310.5 87.7 V126.3 M311.8 87.7 V126.3 M313.9 95.0 V110.0 M367.1 95.2 V112.8 M980.3 85.4 V118.9 M981.7 85.4 V118.9 M984.3 100.8 V108.8 M891.6 100.5 V105.5" stroke="#ee8636" stroke-linecap="round"/>
</g>
<path d="M259 792 v10.3 M427 792 v10.3 M595 792 v10.3 M761 792 v10.3 M929 792 v10.3 M1097 792 v10.3 M169 80 h-10.3 M169 204 h-10.3 M169 328 h-10.3 M169 454 h-10.3 M169 578 h-10.3 M169 702 h-10.3" stroke="#000" stroke-width="2.2" fill="none"/>
<rect x="169" y="52" width="992" height="740" fill="none" stroke="#000" stroke-width="2.2"/>
<text transform="translate(258.1 832.9) scale(1.014 0.962)" font-size="27.78" text-anchor="middle">2.172</text>
<text transform="translate(426.6 832.9) scale(1.014 0.962)" font-size="27.78" text-anchor="middle">2.173</text>
<text transform="translate(594.6 832.9) scale(1.014 0.962)" font-size="27.78" text-anchor="middle">2.174</text>
<text transform="translate(760.8 832.9) scale(1.014 0.962)" font-size="27.78" text-anchor="middle">2.175</text>
<text transform="translate(928.8 832.9) scale(1.014 0.962)" font-size="27.78" text-anchor="middle">2.176</text>
<text transform="translate(1096.2 832.9) scale(1.014 0.962)" font-size="27.78" text-anchor="middle">2.177</text>
<text transform="translate(147.1 90.8) scale(1.014 0.962)" font-size="27.78" text-anchor="end">100</text>
<text transform="translate(145.3 214.9) scale(1.014 0.962)" font-size="27.78" text-anchor="end">50</text>
<text transform="translate(149.2 338.9) scale(1.014 0.962)" font-size="27.78" text-anchor="end">0</text>
<text transform="translate(145.8 462.9) scale(1.014 0.962)" dx="2.1 -2.1" dy="-1.25 1.25" font-size="27.78" text-anchor="end">−50</text>
<text transform="translate(146.3 586.9) scale(1.014 0.962)" dx="2.1 -2.1" dy="-1.25 1.25" font-size="27.78" text-anchor="end">−100</text>
<text transform="translate(146.1 712.9) scale(1.014 0.962)" dx="2.1 -2.1" dy="-1.25 1.25" font-size="27.78" text-anchor="end">−150</text>
<text transform="translate(1158.5 868.6) scale(1 0.962)" dx="1.5 -1.5 0" font-size="27.78" text-anchor="end">1e6</text>
<text x="663" y="873" font-size="27.78" text-anchor="middle">Time (milliseconds)</text>
<text transform="translate(54.2 426.6) rotate(-90) scale(0.993 0.965)" font-size="27.78" text-anchor="middle">Degrees</text>
<text x="662.7" y="34.6" font-size="33.33" text-anchor="middle">Pitch and Roll</text>
<rect x="581.1" y="686" width="167.8" height="92" rx="5.5" ry="5.5" fill="#fff" fill-opacity="0.8" stroke="#d3d3d3" stroke-width="2"/>
<path d="M588 707 H648" stroke="#3a77af" stroke-width="4.17" fill="none"/>
<path d="M588 749.2 H648" stroke="#ee8636" stroke-width="4.17" fill="none"/>
<text x="667.2" y="716.8" dx="0 -1.6 0.7 0 -0.4" font-size="27.78">Pitch</text>
<text x="667.7" y="758.8" dx="0 -1.3 -0.4 0" font-size="27.78">Roll</text>
</g>
</svg>
</body></html>
